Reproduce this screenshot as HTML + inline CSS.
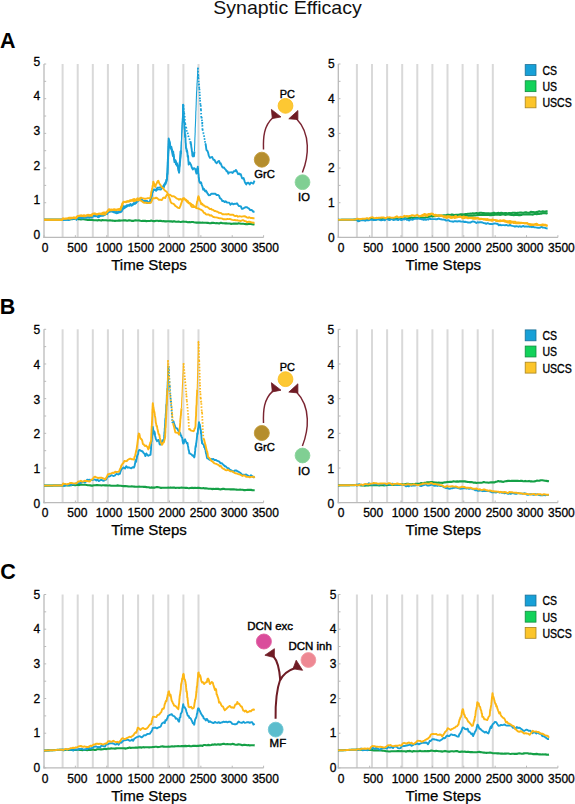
<!DOCTYPE html>
<html><head><meta charset="utf-8"><title>Synaptic Efficacy</title>
<style>html,body{margin:0;padding:0;background:#fff;width:575px;height:804px;overflow:hidden}svg{display:block}</style>
</head><body>
<svg width="575" height="804" viewBox="0 0 575 804">
<style>text{font-family:"Liberation Sans",sans-serif;fill:#111}.tk{font-size:12px;fill:#000;stroke:#000;stroke-width:0.3px}.ts{font-size:14.6px;fill:#000;stroke:#000;stroke-width:0.25px}.lg{font-size:12.2px;fill:#000;stroke:#000;stroke-width:0.35px}.pl{font-size:21.5px;font-weight:bold;fill:#000}.dl{font-size:11.1px;fill:#000;stroke:#000;stroke-width:0.4px}</style>
<rect width="575" height="804" fill="#fff"/>
<text x="287.5" y="13.9" text-anchor="middle" style="font-size:19px" textLength="148.5" lengthAdjust="spacingAndGlyphs">Synaptic Efficacy</text>
<text x="0.1" y="48.2" class="pl">A</text>
<text x="-0.2" y="313.5" class="pl">B</text>
<text x="0.2" y="578.6" class="pl">C</text>
<rect x="61.60" y="64.00" width="2" height="173.40" fill="#d9d9d9"/>
<rect x="76.70" y="64.00" width="2" height="173.40" fill="#d9d9d9"/>
<rect x="91.80" y="64.00" width="2" height="173.40" fill="#d9d9d9"/>
<rect x="106.90" y="64.00" width="2" height="173.40" fill="#d9d9d9"/>
<rect x="122.00" y="64.00" width="2" height="173.40" fill="#d9d9d9"/>
<rect x="137.10" y="64.00" width="2" height="173.40" fill="#d9d9d9"/>
<rect x="152.20" y="64.00" width="2" height="173.40" fill="#d9d9d9"/>
<rect x="167.30" y="64.00" width="2" height="173.40" fill="#d9d9d9"/>
<rect x="182.40" y="64.00" width="2" height="173.40" fill="#d9d9d9"/>
<rect x="197.50" y="64.00" width="2" height="173.40" fill="#d9d9d9"/>
<line x1="44.00" y1="64.00" x2="44.00" y2="238.00" stroke="#bababa" stroke-width="1.3"/>
<line x1="43.40" y1="237.40" x2="263.60" y2="237.40" stroke="#bababa" stroke-width="1.3"/>
<line x1="44.00" y1="237.40" x2="46.20" y2="237.40" stroke="#bababa" stroke-width="1"/>
<line x1="44.00" y1="220.06" x2="46.20" y2="220.06" stroke="#bababa" stroke-width="1"/>
<line x1="44.00" y1="202.72" x2="46.20" y2="202.72" stroke="#bababa" stroke-width="1"/>
<line x1="44.00" y1="185.38" x2="46.20" y2="185.38" stroke="#bababa" stroke-width="1"/>
<line x1="44.00" y1="168.04" x2="46.20" y2="168.04" stroke="#bababa" stroke-width="1"/>
<line x1="44.00" y1="150.70" x2="46.20" y2="150.70" stroke="#bababa" stroke-width="1"/>
<line x1="44.00" y1="133.36" x2="46.20" y2="133.36" stroke="#bababa" stroke-width="1"/>
<line x1="44.00" y1="116.02" x2="46.20" y2="116.02" stroke="#bababa" stroke-width="1"/>
<line x1="44.00" y1="98.68" x2="46.20" y2="98.68" stroke="#bababa" stroke-width="1"/>
<line x1="44.00" y1="81.34" x2="46.20" y2="81.34" stroke="#bababa" stroke-width="1"/>
<line x1="44.00" y1="64.00" x2="46.20" y2="64.00" stroke="#bababa" stroke-width="1"/>
<line x1="44.00" y1="237.40" x2="44.00" y2="235.20" stroke="#bababa" stroke-width="1"/>
<line x1="75.37" y1="237.40" x2="75.37" y2="235.20" stroke="#bababa" stroke-width="1"/>
<line x1="106.74" y1="237.40" x2="106.74" y2="235.20" stroke="#bababa" stroke-width="1"/>
<line x1="138.11" y1="237.40" x2="138.11" y2="235.20" stroke="#bababa" stroke-width="1"/>
<line x1="169.49" y1="237.40" x2="169.49" y2="235.20" stroke="#bababa" stroke-width="1"/>
<line x1="200.86" y1="237.40" x2="200.86" y2="235.20" stroke="#bababa" stroke-width="1"/>
<line x1="232.23" y1="237.40" x2="232.23" y2="235.20" stroke="#bababa" stroke-width="1"/>
<line x1="263.60" y1="237.40" x2="263.60" y2="235.20" stroke="#bababa" stroke-width="1"/>
<text x="40.10" y="238.90" class="tk" text-anchor="end">0</text>
<text x="40.10" y="204.22" class="tk" text-anchor="end">1</text>
<text x="40.10" y="169.54" class="tk" text-anchor="end">2</text>
<text x="40.10" y="134.86" class="tk" text-anchor="end">3</text>
<text x="40.10" y="100.18" class="tk" text-anchor="end">4</text>
<text x="40.10" y="65.50" class="tk" text-anchor="end">5</text>
<text x="45.10" y="252.00" class="tk" text-anchor="middle">0</text>
<text x="77.30" y="252.00" class="tk" text-anchor="middle">500</text>
<text x="109.10" y="252.00" class="tk" text-anchor="middle">1000</text>
<text x="140.80" y="252.00" class="tk" text-anchor="middle">1500</text>
<text x="171.90" y="252.00" class="tk" text-anchor="middle">2000</text>
<text x="203.10" y="252.00" class="tk" text-anchor="middle">2500</text>
<text x="234.10" y="252.00" class="tk" text-anchor="middle">3000</text>
<text x="265.50" y="252.00" class="tk" text-anchor="middle">3500</text>
<text x="149.00" y="270.00" class="ts" text-anchor="middle" textLength="75.6" lengthAdjust="spacingAndGlyphs">Time Steps</text>
<rect x="355.90" y="64.00" width="2" height="173.40" fill="#d9d9d9"/>
<rect x="371.00" y="64.00" width="2" height="173.40" fill="#d9d9d9"/>
<rect x="386.10" y="64.00" width="2" height="173.40" fill="#d9d9d9"/>
<rect x="401.20" y="64.00" width="2" height="173.40" fill="#d9d9d9"/>
<rect x="416.30" y="64.00" width="2" height="173.40" fill="#d9d9d9"/>
<rect x="431.40" y="64.00" width="2" height="173.40" fill="#d9d9d9"/>
<rect x="446.50" y="64.00" width="2" height="173.40" fill="#d9d9d9"/>
<rect x="461.60" y="64.00" width="2" height="173.40" fill="#d9d9d9"/>
<rect x="476.70" y="64.00" width="2" height="173.40" fill="#d9d9d9"/>
<rect x="491.80" y="64.00" width="2" height="173.40" fill="#d9d9d9"/>
<line x1="338.30" y1="64.00" x2="338.30" y2="238.00" stroke="#bababa" stroke-width="1.3"/>
<line x1="337.70" y1="237.40" x2="557.90" y2="237.40" stroke="#bababa" stroke-width="1.3"/>
<line x1="338.30" y1="237.40" x2="340.50" y2="237.40" stroke="#bababa" stroke-width="1"/>
<line x1="338.30" y1="220.06" x2="340.50" y2="220.06" stroke="#bababa" stroke-width="1"/>
<line x1="338.30" y1="202.72" x2="340.50" y2="202.72" stroke="#bababa" stroke-width="1"/>
<line x1="338.30" y1="185.38" x2="340.50" y2="185.38" stroke="#bababa" stroke-width="1"/>
<line x1="338.30" y1="168.04" x2="340.50" y2="168.04" stroke="#bababa" stroke-width="1"/>
<line x1="338.30" y1="150.70" x2="340.50" y2="150.70" stroke="#bababa" stroke-width="1"/>
<line x1="338.30" y1="133.36" x2="340.50" y2="133.36" stroke="#bababa" stroke-width="1"/>
<line x1="338.30" y1="116.02" x2="340.50" y2="116.02" stroke="#bababa" stroke-width="1"/>
<line x1="338.30" y1="98.68" x2="340.50" y2="98.68" stroke="#bababa" stroke-width="1"/>
<line x1="338.30" y1="81.34" x2="340.50" y2="81.34" stroke="#bababa" stroke-width="1"/>
<line x1="338.30" y1="64.00" x2="340.50" y2="64.00" stroke="#bababa" stroke-width="1"/>
<line x1="338.30" y1="237.40" x2="338.30" y2="235.20" stroke="#bababa" stroke-width="1"/>
<line x1="369.67" y1="237.40" x2="369.67" y2="235.20" stroke="#bababa" stroke-width="1"/>
<line x1="401.04" y1="237.40" x2="401.04" y2="235.20" stroke="#bababa" stroke-width="1"/>
<line x1="432.41" y1="237.40" x2="432.41" y2="235.20" stroke="#bababa" stroke-width="1"/>
<line x1="463.79" y1="237.40" x2="463.79" y2="235.20" stroke="#bababa" stroke-width="1"/>
<line x1="495.16" y1="237.40" x2="495.16" y2="235.20" stroke="#bababa" stroke-width="1"/>
<line x1="526.53" y1="237.40" x2="526.53" y2="235.20" stroke="#bababa" stroke-width="1"/>
<line x1="557.90" y1="237.40" x2="557.90" y2="235.20" stroke="#bababa" stroke-width="1"/>
<text x="334.60" y="241.50" class="tk" text-anchor="end">0</text>
<text x="334.60" y="206.82" class="tk" text-anchor="end">1</text>
<text x="334.60" y="172.14" class="tk" text-anchor="end">2</text>
<text x="334.60" y="137.46" class="tk" text-anchor="end">3</text>
<text x="334.60" y="102.78" class="tk" text-anchor="end">4</text>
<text x="334.60" y="68.10" class="tk" text-anchor="end">5</text>
<text x="341.00" y="252.00" class="tk" text-anchor="middle">0</text>
<text x="373.20" y="252.00" class="tk" text-anchor="middle">500</text>
<text x="405.00" y="252.00" class="tk" text-anchor="middle">1000</text>
<text x="436.70" y="252.00" class="tk" text-anchor="middle">1500</text>
<text x="467.80" y="252.00" class="tk" text-anchor="middle">2000</text>
<text x="499.00" y="252.00" class="tk" text-anchor="middle">2500</text>
<text x="530.00" y="252.00" class="tk" text-anchor="middle">3000</text>
<text x="561.40" y="252.00" class="tk" text-anchor="middle">3500</text>
<text x="443.30" y="270.00" class="ts" text-anchor="middle" textLength="75.6" lengthAdjust="spacingAndGlyphs">Time Steps</text>
<rect x="525.2" y="64.60" width="10.8" height="10.9" fill="#17a0d7" stroke="#1b6f95" stroke-width="0.8"/>
<text x="542.4" y="74.90" class="lg" textLength="14.6" lengthAdjust="spacingAndGlyphs">CS</text>
<rect x="525.2" y="80.75" width="10.8" height="10.9" fill="#12d25a" stroke="#138a3e" stroke-width="0.8"/>
<text x="542.4" y="91.05" class="lg" textLength="14.6" lengthAdjust="spacingAndGlyphs">US</text>
<rect x="525.2" y="96.90" width="10.8" height="10.9" fill="#fcc52a" stroke="#a8841f" stroke-width="0.8"/>
<text x="542.4" y="107.20" class="lg" textLength="29.4" lengthAdjust="spacingAndGlyphs">USCS</text>
<rect x="61.60" y="329.30" width="2" height="173.40" fill="#d9d9d9"/>
<rect x="76.70" y="329.30" width="2" height="173.40" fill="#d9d9d9"/>
<rect x="91.80" y="329.30" width="2" height="173.40" fill="#d9d9d9"/>
<rect x="106.90" y="329.30" width="2" height="173.40" fill="#d9d9d9"/>
<rect x="122.00" y="329.30" width="2" height="173.40" fill="#d9d9d9"/>
<rect x="137.10" y="329.30" width="2" height="173.40" fill="#d9d9d9"/>
<rect x="152.20" y="329.30" width="2" height="173.40" fill="#d9d9d9"/>
<rect x="167.30" y="329.30" width="2" height="173.40" fill="#d9d9d9"/>
<rect x="182.40" y="329.30" width="2" height="173.40" fill="#d9d9d9"/>
<rect x="197.50" y="329.30" width="2" height="173.40" fill="#d9d9d9"/>
<line x1="44.00" y1="329.30" x2="44.00" y2="503.30" stroke="#bababa" stroke-width="1.3"/>
<line x1="43.40" y1="502.70" x2="263.60" y2="502.70" stroke="#bababa" stroke-width="1.3"/>
<line x1="44.00" y1="502.70" x2="46.20" y2="502.70" stroke="#bababa" stroke-width="1"/>
<line x1="44.00" y1="485.36" x2="46.20" y2="485.36" stroke="#bababa" stroke-width="1"/>
<line x1="44.00" y1="468.02" x2="46.20" y2="468.02" stroke="#bababa" stroke-width="1"/>
<line x1="44.00" y1="450.68" x2="46.20" y2="450.68" stroke="#bababa" stroke-width="1"/>
<line x1="44.00" y1="433.34" x2="46.20" y2="433.34" stroke="#bababa" stroke-width="1"/>
<line x1="44.00" y1="416.00" x2="46.20" y2="416.00" stroke="#bababa" stroke-width="1"/>
<line x1="44.00" y1="398.66" x2="46.20" y2="398.66" stroke="#bababa" stroke-width="1"/>
<line x1="44.00" y1="381.32" x2="46.20" y2="381.32" stroke="#bababa" stroke-width="1"/>
<line x1="44.00" y1="363.98" x2="46.20" y2="363.98" stroke="#bababa" stroke-width="1"/>
<line x1="44.00" y1="346.64" x2="46.20" y2="346.64" stroke="#bababa" stroke-width="1"/>
<line x1="44.00" y1="329.30" x2="46.20" y2="329.30" stroke="#bababa" stroke-width="1"/>
<line x1="44.00" y1="502.70" x2="44.00" y2="500.50" stroke="#bababa" stroke-width="1"/>
<line x1="75.37" y1="502.70" x2="75.37" y2="500.50" stroke="#bababa" stroke-width="1"/>
<line x1="106.74" y1="502.70" x2="106.74" y2="500.50" stroke="#bababa" stroke-width="1"/>
<line x1="138.11" y1="502.70" x2="138.11" y2="500.50" stroke="#bababa" stroke-width="1"/>
<line x1="169.49" y1="502.70" x2="169.49" y2="500.50" stroke="#bababa" stroke-width="1"/>
<line x1="200.86" y1="502.70" x2="200.86" y2="500.50" stroke="#bababa" stroke-width="1"/>
<line x1="232.23" y1="502.70" x2="232.23" y2="500.50" stroke="#bababa" stroke-width="1"/>
<line x1="263.60" y1="502.70" x2="263.60" y2="500.50" stroke="#bababa" stroke-width="1"/>
<text x="40.10" y="507.80" class="tk" text-anchor="end">0</text>
<text x="40.10" y="473.12" class="tk" text-anchor="end">1</text>
<text x="40.10" y="438.44" class="tk" text-anchor="end">2</text>
<text x="40.10" y="403.76" class="tk" text-anchor="end">3</text>
<text x="40.10" y="369.08" class="tk" text-anchor="end">4</text>
<text x="40.10" y="334.40" class="tk" text-anchor="end">5</text>
<text x="45.10" y="517.30" class="tk" text-anchor="middle">0</text>
<text x="77.30" y="517.30" class="tk" text-anchor="middle">500</text>
<text x="109.10" y="517.30" class="tk" text-anchor="middle">1000</text>
<text x="140.80" y="517.30" class="tk" text-anchor="middle">1500</text>
<text x="171.90" y="517.30" class="tk" text-anchor="middle">2000</text>
<text x="203.10" y="517.30" class="tk" text-anchor="middle">2500</text>
<text x="234.10" y="517.30" class="tk" text-anchor="middle">3000</text>
<text x="265.50" y="517.30" class="tk" text-anchor="middle">3500</text>
<text x="149.00" y="535.30" class="ts" text-anchor="middle" textLength="75.6" lengthAdjust="spacingAndGlyphs">Time Steps</text>
<rect x="355.90" y="329.30" width="2" height="173.40" fill="#d9d9d9"/>
<rect x="371.00" y="329.30" width="2" height="173.40" fill="#d9d9d9"/>
<rect x="386.10" y="329.30" width="2" height="173.40" fill="#d9d9d9"/>
<rect x="401.20" y="329.30" width="2" height="173.40" fill="#d9d9d9"/>
<rect x="416.30" y="329.30" width="2" height="173.40" fill="#d9d9d9"/>
<rect x="431.40" y="329.30" width="2" height="173.40" fill="#d9d9d9"/>
<rect x="446.50" y="329.30" width="2" height="173.40" fill="#d9d9d9"/>
<rect x="461.60" y="329.30" width="2" height="173.40" fill="#d9d9d9"/>
<rect x="476.70" y="329.30" width="2" height="173.40" fill="#d9d9d9"/>
<rect x="491.80" y="329.30" width="2" height="173.40" fill="#d9d9d9"/>
<line x1="338.30" y1="329.30" x2="338.30" y2="503.30" stroke="#bababa" stroke-width="1.3"/>
<line x1="337.70" y1="502.70" x2="557.90" y2="502.70" stroke="#bababa" stroke-width="1.3"/>
<line x1="338.30" y1="502.70" x2="340.50" y2="502.70" stroke="#bababa" stroke-width="1"/>
<line x1="338.30" y1="485.36" x2="340.50" y2="485.36" stroke="#bababa" stroke-width="1"/>
<line x1="338.30" y1="468.02" x2="340.50" y2="468.02" stroke="#bababa" stroke-width="1"/>
<line x1="338.30" y1="450.68" x2="340.50" y2="450.68" stroke="#bababa" stroke-width="1"/>
<line x1="338.30" y1="433.34" x2="340.50" y2="433.34" stroke="#bababa" stroke-width="1"/>
<line x1="338.30" y1="416.00" x2="340.50" y2="416.00" stroke="#bababa" stroke-width="1"/>
<line x1="338.30" y1="398.66" x2="340.50" y2="398.66" stroke="#bababa" stroke-width="1"/>
<line x1="338.30" y1="381.32" x2="340.50" y2="381.32" stroke="#bababa" stroke-width="1"/>
<line x1="338.30" y1="363.98" x2="340.50" y2="363.98" stroke="#bababa" stroke-width="1"/>
<line x1="338.30" y1="346.64" x2="340.50" y2="346.64" stroke="#bababa" stroke-width="1"/>
<line x1="338.30" y1="329.30" x2="340.50" y2="329.30" stroke="#bababa" stroke-width="1"/>
<line x1="338.30" y1="502.70" x2="338.30" y2="500.50" stroke="#bababa" stroke-width="1"/>
<line x1="369.67" y1="502.70" x2="369.67" y2="500.50" stroke="#bababa" stroke-width="1"/>
<line x1="401.04" y1="502.70" x2="401.04" y2="500.50" stroke="#bababa" stroke-width="1"/>
<line x1="432.41" y1="502.70" x2="432.41" y2="500.50" stroke="#bababa" stroke-width="1"/>
<line x1="463.79" y1="502.70" x2="463.79" y2="500.50" stroke="#bababa" stroke-width="1"/>
<line x1="495.16" y1="502.70" x2="495.16" y2="500.50" stroke="#bababa" stroke-width="1"/>
<line x1="526.53" y1="502.70" x2="526.53" y2="500.50" stroke="#bababa" stroke-width="1"/>
<line x1="557.90" y1="502.70" x2="557.90" y2="500.50" stroke="#bababa" stroke-width="1"/>
<text x="334.20" y="507.80" class="tk" text-anchor="end">0</text>
<text x="334.20" y="473.12" class="tk" text-anchor="end">1</text>
<text x="334.20" y="438.44" class="tk" text-anchor="end">2</text>
<text x="334.20" y="403.76" class="tk" text-anchor="end">3</text>
<text x="334.20" y="369.08" class="tk" text-anchor="end">4</text>
<text x="334.20" y="334.40" class="tk" text-anchor="end">5</text>
<text x="341.00" y="517.30" class="tk" text-anchor="middle">0</text>
<text x="373.20" y="517.30" class="tk" text-anchor="middle">500</text>
<text x="405.00" y="517.30" class="tk" text-anchor="middle">1000</text>
<text x="436.70" y="517.30" class="tk" text-anchor="middle">1500</text>
<text x="467.80" y="517.30" class="tk" text-anchor="middle">2000</text>
<text x="499.00" y="517.30" class="tk" text-anchor="middle">2500</text>
<text x="530.00" y="517.30" class="tk" text-anchor="middle">3000</text>
<text x="561.40" y="517.30" class="tk" text-anchor="middle">3500</text>
<text x="443.30" y="535.30" class="ts" text-anchor="middle" textLength="75.6" lengthAdjust="spacingAndGlyphs">Time Steps</text>
<rect x="525.2" y="329.90" width="10.8" height="10.9" fill="#17a0d7" stroke="#1b6f95" stroke-width="0.8"/>
<text x="542.4" y="340.20" class="lg" textLength="14.6" lengthAdjust="spacingAndGlyphs">CS</text>
<rect x="525.2" y="346.05" width="10.8" height="10.9" fill="#12d25a" stroke="#138a3e" stroke-width="0.8"/>
<text x="542.4" y="356.35" class="lg" textLength="14.6" lengthAdjust="spacingAndGlyphs">US</text>
<rect x="525.2" y="362.20" width="10.8" height="10.9" fill="#fcc52a" stroke="#a8841f" stroke-width="0.8"/>
<text x="542.4" y="372.50" class="lg" textLength="29.4" lengthAdjust="spacingAndGlyphs">USCS</text>
<rect x="61.60" y="594.50" width="2" height="173.40" fill="#d9d9d9"/>
<rect x="76.70" y="594.50" width="2" height="173.40" fill="#d9d9d9"/>
<rect x="91.80" y="594.50" width="2" height="173.40" fill="#d9d9d9"/>
<rect x="106.90" y="594.50" width="2" height="173.40" fill="#d9d9d9"/>
<rect x="122.00" y="594.50" width="2" height="173.40" fill="#d9d9d9"/>
<rect x="137.10" y="594.50" width="2" height="173.40" fill="#d9d9d9"/>
<rect x="152.20" y="594.50" width="2" height="173.40" fill="#d9d9d9"/>
<rect x="167.30" y="594.50" width="2" height="173.40" fill="#d9d9d9"/>
<rect x="182.40" y="594.50" width="2" height="173.40" fill="#d9d9d9"/>
<rect x="197.50" y="594.50" width="2" height="173.40" fill="#d9d9d9"/>
<line x1="44.00" y1="594.50" x2="44.00" y2="768.50" stroke="#bababa" stroke-width="1.3"/>
<line x1="43.40" y1="767.90" x2="263.60" y2="767.90" stroke="#bababa" stroke-width="1.3"/>
<line x1="44.00" y1="767.90" x2="46.20" y2="767.90" stroke="#bababa" stroke-width="1"/>
<line x1="44.00" y1="750.56" x2="46.20" y2="750.56" stroke="#bababa" stroke-width="1"/>
<line x1="44.00" y1="733.22" x2="46.20" y2="733.22" stroke="#bababa" stroke-width="1"/>
<line x1="44.00" y1="715.88" x2="46.20" y2="715.88" stroke="#bababa" stroke-width="1"/>
<line x1="44.00" y1="698.54" x2="46.20" y2="698.54" stroke="#bababa" stroke-width="1"/>
<line x1="44.00" y1="681.20" x2="46.20" y2="681.20" stroke="#bababa" stroke-width="1"/>
<line x1="44.00" y1="663.86" x2="46.20" y2="663.86" stroke="#bababa" stroke-width="1"/>
<line x1="44.00" y1="646.52" x2="46.20" y2="646.52" stroke="#bababa" stroke-width="1"/>
<line x1="44.00" y1="629.18" x2="46.20" y2="629.18" stroke="#bababa" stroke-width="1"/>
<line x1="44.00" y1="611.84" x2="46.20" y2="611.84" stroke="#bababa" stroke-width="1"/>
<line x1="44.00" y1="594.50" x2="46.20" y2="594.50" stroke="#bababa" stroke-width="1"/>
<line x1="44.00" y1="767.90" x2="44.00" y2="765.70" stroke="#bababa" stroke-width="1"/>
<line x1="75.37" y1="767.90" x2="75.37" y2="765.70" stroke="#bababa" stroke-width="1"/>
<line x1="106.74" y1="767.90" x2="106.74" y2="765.70" stroke="#bababa" stroke-width="1"/>
<line x1="138.11" y1="767.90" x2="138.11" y2="765.70" stroke="#bababa" stroke-width="1"/>
<line x1="169.49" y1="767.90" x2="169.49" y2="765.70" stroke="#bababa" stroke-width="1"/>
<line x1="200.86" y1="767.90" x2="200.86" y2="765.70" stroke="#bababa" stroke-width="1"/>
<line x1="232.23" y1="767.90" x2="232.23" y2="765.70" stroke="#bababa" stroke-width="1"/>
<line x1="263.60" y1="767.90" x2="263.60" y2="765.70" stroke="#bababa" stroke-width="1"/>
<text x="40.10" y="772.00" class="tk" text-anchor="end">0</text>
<text x="40.10" y="737.32" class="tk" text-anchor="end">1</text>
<text x="40.10" y="702.64" class="tk" text-anchor="end">2</text>
<text x="40.10" y="667.96" class="tk" text-anchor="end">3</text>
<text x="40.10" y="633.28" class="tk" text-anchor="end">4</text>
<text x="40.10" y="598.60" class="tk" text-anchor="end">5</text>
<text x="45.10" y="782.50" class="tk" text-anchor="middle">0</text>
<text x="77.30" y="782.50" class="tk" text-anchor="middle">500</text>
<text x="109.10" y="782.50" class="tk" text-anchor="middle">1000</text>
<text x="140.80" y="782.50" class="tk" text-anchor="middle">1500</text>
<text x="171.90" y="782.50" class="tk" text-anchor="middle">2000</text>
<text x="203.10" y="782.50" class="tk" text-anchor="middle">2500</text>
<text x="234.10" y="782.50" class="tk" text-anchor="middle">3000</text>
<text x="265.50" y="782.50" class="tk" text-anchor="middle">3500</text>
<text x="149.00" y="800.50" class="ts" text-anchor="middle" textLength="75.6" lengthAdjust="spacingAndGlyphs">Time Steps</text>
<rect x="355.90" y="594.50" width="2" height="173.40" fill="#d9d9d9"/>
<rect x="371.00" y="594.50" width="2" height="173.40" fill="#d9d9d9"/>
<rect x="386.10" y="594.50" width="2" height="173.40" fill="#d9d9d9"/>
<rect x="401.20" y="594.50" width="2" height="173.40" fill="#d9d9d9"/>
<rect x="416.30" y="594.50" width="2" height="173.40" fill="#d9d9d9"/>
<rect x="431.40" y="594.50" width="2" height="173.40" fill="#d9d9d9"/>
<rect x="446.50" y="594.50" width="2" height="173.40" fill="#d9d9d9"/>
<rect x="461.60" y="594.50" width="2" height="173.40" fill="#d9d9d9"/>
<rect x="476.70" y="594.50" width="2" height="173.40" fill="#d9d9d9"/>
<rect x="491.80" y="594.50" width="2" height="173.40" fill="#d9d9d9"/>
<line x1="338.30" y1="594.50" x2="338.30" y2="768.50" stroke="#bababa" stroke-width="1.3"/>
<line x1="337.70" y1="767.90" x2="557.90" y2="767.90" stroke="#bababa" stroke-width="1.3"/>
<line x1="338.30" y1="767.90" x2="340.50" y2="767.90" stroke="#bababa" stroke-width="1"/>
<line x1="338.30" y1="750.56" x2="340.50" y2="750.56" stroke="#bababa" stroke-width="1"/>
<line x1="338.30" y1="733.22" x2="340.50" y2="733.22" stroke="#bababa" stroke-width="1"/>
<line x1="338.30" y1="715.88" x2="340.50" y2="715.88" stroke="#bababa" stroke-width="1"/>
<line x1="338.30" y1="698.54" x2="340.50" y2="698.54" stroke="#bababa" stroke-width="1"/>
<line x1="338.30" y1="681.20" x2="340.50" y2="681.20" stroke="#bababa" stroke-width="1"/>
<line x1="338.30" y1="663.86" x2="340.50" y2="663.86" stroke="#bababa" stroke-width="1"/>
<line x1="338.30" y1="646.52" x2="340.50" y2="646.52" stroke="#bababa" stroke-width="1"/>
<line x1="338.30" y1="629.18" x2="340.50" y2="629.18" stroke="#bababa" stroke-width="1"/>
<line x1="338.30" y1="611.84" x2="340.50" y2="611.84" stroke="#bababa" stroke-width="1"/>
<line x1="338.30" y1="594.50" x2="340.50" y2="594.50" stroke="#bababa" stroke-width="1"/>
<line x1="338.30" y1="767.90" x2="338.30" y2="765.70" stroke="#bababa" stroke-width="1"/>
<line x1="369.67" y1="767.90" x2="369.67" y2="765.70" stroke="#bababa" stroke-width="1"/>
<line x1="401.04" y1="767.90" x2="401.04" y2="765.70" stroke="#bababa" stroke-width="1"/>
<line x1="432.41" y1="767.90" x2="432.41" y2="765.70" stroke="#bababa" stroke-width="1"/>
<line x1="463.79" y1="767.90" x2="463.79" y2="765.70" stroke="#bababa" stroke-width="1"/>
<line x1="495.16" y1="767.90" x2="495.16" y2="765.70" stroke="#bababa" stroke-width="1"/>
<line x1="526.53" y1="767.90" x2="526.53" y2="765.70" stroke="#bababa" stroke-width="1"/>
<line x1="557.90" y1="767.90" x2="557.90" y2="765.70" stroke="#bababa" stroke-width="1"/>
<text x="336.40" y="772.00" class="tk" text-anchor="end">0</text>
<text x="336.40" y="737.32" class="tk" text-anchor="end">1</text>
<text x="336.40" y="702.64" class="tk" text-anchor="end">2</text>
<text x="336.40" y="667.96" class="tk" text-anchor="end">3</text>
<text x="336.40" y="633.28" class="tk" text-anchor="end">4</text>
<text x="336.40" y="598.60" class="tk" text-anchor="end">5</text>
<text x="341.00" y="782.50" class="tk" text-anchor="middle">0</text>
<text x="373.20" y="782.50" class="tk" text-anchor="middle">500</text>
<text x="405.00" y="782.50" class="tk" text-anchor="middle">1000</text>
<text x="436.70" y="782.50" class="tk" text-anchor="middle">1500</text>
<text x="467.80" y="782.50" class="tk" text-anchor="middle">2000</text>
<text x="499.00" y="782.50" class="tk" text-anchor="middle">2500</text>
<text x="530.00" y="782.50" class="tk" text-anchor="middle">3000</text>
<text x="561.40" y="782.50" class="tk" text-anchor="middle">3500</text>
<text x="443.30" y="800.50" class="ts" text-anchor="middle" textLength="75.6" lengthAdjust="spacingAndGlyphs">Time Steps</text>
<rect x="525.2" y="595.10" width="10.8" height="10.9" fill="#17a0d7" stroke="#1b6f95" stroke-width="0.8"/>
<text x="542.4" y="605.40" class="lg" textLength="14.6" lengthAdjust="spacingAndGlyphs">CS</text>
<rect x="525.2" y="611.25" width="10.8" height="10.9" fill="#12d25a" stroke="#138a3e" stroke-width="0.8"/>
<text x="542.4" y="621.55" class="lg" textLength="14.6" lengthAdjust="spacingAndGlyphs">US</text>
<rect x="525.2" y="627.40" width="10.8" height="10.9" fill="#fcc52a" stroke="#a8841f" stroke-width="0.8"/>
<text x="542.4" y="637.70" class="lg" textLength="29.4" lengthAdjust="spacingAndGlyphs">USCS</text>
<path d="M44.0,219.8 L45.2,219.8 L46.4,219.8 L47.6,219.8 L48.9,219.8 L50.1,219.8 L51.3,219.8 L52.5,219.8 L53.7,219.7 L54.9,219.7 L56.1,219.7 L57.3,219.7 L58.6,219.7 L59.8,219.7 L61.0,219.7 L62.2,219.7 L63.5,219.4 L64.8,219.1 L66.1,219.1 L67.4,219.1 L68.7,219.2 L70.0,219.2 L71.4,219.2 L72.8,218.9 L74.2,218.9 L75.6,218.9 L77.0,218.6 L78.3,219.1 L79.7,219.2 L81.0,219.5 L82.3,219.3 L83.7,219.3 L85.0,219.5 L86.2,219.6 L87.5,219.9 L88.8,219.9 L90.0,219.9 L91.2,219.9 L92.5,219.9 L93.8,220.3 L95.0,220.2 L96.2,220.3 L97.5,220.4 L98.8,220.1 L100.0,220.3 L101.2,220.6 L102.5,220.1 L103.8,220.2 L105.0,220.3 L106.2,220.2 L107.5,220.5 L108.8,220.5 L110.0,220.2 L111.2,220.5 L112.5,220.6 L113.8,220.7 L115.0,220.9 L116.2,220.8 L117.5,220.7 L118.8,220.4 L120.0,220.6 L121.2,220.5 L122.4,220.5 L123.6,220.4 L124.8,220.3 L126.0,220.4 L127.2,220.8 L128.4,220.4 L129.6,220.3 L130.8,220.5 L132.0,220.9 L133.2,220.9 L134.4,220.5 L135.6,220.2 L136.8,220.5 L138.0,220.5 L139.2,220.4 L140.4,220.8 L141.6,221.0 L142.8,220.9 L144.0,220.9 L145.2,220.9 L146.4,221.1 L147.6,221.0 L148.8,221.0 L150.0,221.0 L151.2,220.6 L152.5,221.0 L153.8,221.1 L155.0,221.1 L156.2,220.7 L157.5,220.8 L158.8,221.1 L160.0,220.8 L161.2,220.9 L162.5,221.2 L163.8,221.0 L165.0,221.4 L166.2,221.4 L167.5,221.3 L168.8,221.3 L170.0,221.4 L171.2,221.4 L172.4,221.6 L173.6,221.4 L174.8,221.4 L176.0,221.7 L177.2,221.7 L178.4,221.5 L179.6,221.8 L180.8,222.0 L182.0,221.8 L183.2,221.6 L184.4,221.8 L185.6,221.8 L186.8,221.9 L188.0,222.2 L189.2,222.0 L190.4,222.3 L191.6,222.0 L192.8,222.0 L194.0,222.3 L195.2,222.5 L196.4,222.6 L197.6,222.6 L198.8,222.5 L200.0,222.6 L201.2,222.7 L202.4,222.6 L203.6,222.7 L204.8,222.8 L206.0,222.8 L207.2,222.9 L208.4,222.9 L209.6,223.2 L210.8,223.1 L212.0,222.9 L213.2,222.9 L214.4,223.0 L215.6,223.2 L216.8,223.1 L218.0,223.2 L219.2,223.5 L220.4,222.9 L221.6,222.9 L222.8,223.2 L224.0,223.3 L225.2,223.4 L226.4,223.3 L227.6,223.5 L228.8,223.5 L230.0,223.5 L231.2,223.9 L232.4,223.8 L233.7,223.6 L234.9,223.6 L236.1,223.6 L237.3,223.7 L238.6,223.3 L239.8,223.5 L241.0,223.8 L242.2,223.7 L243.5,223.8 L244.7,224.0 L245.9,224.1 L247.2,224.3 L248.4,223.9 L249.6,223.9 L250.8,224.0 L252.1,224.2 L253.3,224.4 L254.5,224.2" fill="none" stroke="#14a046" stroke-width="2.10" stroke-linejoin="round" stroke-linecap="butt"/>
<path d="M338.0,219.9 L339.3,219.9 L340.5,219.9 L341.8,219.8 L343.0,219.8 L344.3,219.8 L345.5,219.8 L346.8,219.8 L348.0,219.7 L349.3,219.7 L350.5,219.7 L351.8,219.7 L353.0,219.7 L354.3,219.6 L355.5,219.6 L356.8,219.6 L358.0,219.7 L359.3,219.6 L360.5,219.5 L361.7,219.6 L362.9,219.6 L364.2,219.6 L365.4,219.2 L366.6,219.0 L367.9,219.3 L369.1,219.1 L370.3,219.0 L371.6,218.9 L372.8,219.3 L374.0,219.3 L375.2,219.5 L376.5,219.1 L377.7,219.1 L378.9,218.9 L380.2,219.1 L381.4,219.3 L382.6,219.0 L383.9,219.2 L385.1,219.2 L386.3,219.0 L387.5,218.5 L388.8,218.9 L390.0,218.8 L391.2,218.7 L392.4,218.8 L393.6,218.8 L394.8,219.0 L396.0,218.6 L397.2,218.7 L398.4,218.9 L399.6,218.9 L400.8,218.6 L402.0,218.3 L403.2,218.5 L404.4,218.4 L405.6,218.3 L406.8,218.5 L408.0,218.3 L409.2,217.8 L410.4,217.9 L411.6,217.6 L412.8,218.0 L414.0,218.0 L415.2,217.9 L416.4,217.9 L417.6,218.0 L418.8,217.9 L420.0,218.1 L421.2,217.8 L422.5,217.8 L423.8,217.8 L425.0,217.7 L426.2,217.2 L427.5,217.2 L428.8,216.6 L430.0,216.4 L431.2,216.1 L432.5,216.4 L433.8,216.1 L435.0,216.1 L436.2,216.0 L437.5,215.9 L438.8,215.6 L440.0,215.6 L441.2,215.8 L442.5,215.5 L443.8,215.4 L445.0,215.4 L446.2,215.2 L447.4,214.8 L448.6,214.8 L449.9,215.1 L451.1,214.6 L452.3,214.6 L453.5,214.9 L454.7,215.0 L455.9,214.9 L457.1,214.9 L458.4,214.8 L459.6,214.5 L460.8,214.2 L462.0,214.3 L463.2,214.6 L464.4,214.3 L465.6,214.1 L466.8,214.0 L468.0,213.7 L469.2,213.8 L470.4,213.6 L471.6,213.8 L472.8,213.2 L474.0,213.5 L475.2,213.4 L476.4,213.0 L477.6,213.3 L478.8,213.2 L480.0,212.7 L481.2,212.8 L482.5,213.1 L483.8,213.0 L485.0,213.2 L486.2,213.3 L487.5,213.4 L488.8,213.3 L490.0,213.5 L491.2,213.4 L492.5,213.3 L493.8,212.7 L495.0,213.1 L496.2,213.3 L497.5,213.1 L498.8,212.9 L500.0,213.4 L501.2,212.8 L502.5,213.0 L503.8,213.5 L505.0,213.0 L506.2,213.1 L507.5,213.4 L508.8,213.1 L510.0,213.1 L511.2,213.2 L512.5,212.8 L513.8,212.8 L515.0,212.9 L516.2,213.0 L517.5,212.9 L518.8,212.8 L520.0,212.6 L521.2,212.6 L522.4,212.8 L523.6,212.7 L524.8,212.4 L526.0,212.2 L527.2,212.8 L528.4,212.8 L529.6,212.6 L530.8,211.8 L532.0,212.1 L533.2,212.1 L534.4,212.4 L535.6,212.2 L536.8,211.9 L538.0,211.9 L539.2,211.3 L540.4,211.7 L541.6,211.6 L542.8,211.4 L544.0,211.6 L545.2,211.8 L546.4,211.2 L547.6,211.2" fill="none" stroke="#14a046" stroke-width="2.10" stroke-linejoin="round" stroke-linecap="butt"/>
<path d="M445.0,216.6 L446.2,216.6 L447.4,216.5 L448.6,216.3 L449.9,216.8 L451.1,216.8 L452.3,216.4 L453.5,216.1 L454.7,216.6 L455.9,216.6 L457.1,216.8 L458.4,216.7 L459.6,216.3 L460.8,216.3 L462.0,215.8 L463.2,215.8 L464.4,215.9 L465.6,216.0 L466.8,215.8 L468.0,215.7 L469.2,215.8 L470.4,215.7 L471.6,215.7 L472.8,215.6 L474.0,215.4 L475.2,215.5 L476.4,215.3 L477.6,215.0 L478.8,214.9 L480.0,214.9 L481.2,214.9 L482.5,215.0 L483.8,215.0 L485.0,215.0 L486.2,215.0 L487.5,214.7 L488.8,214.9 L490.0,215.1 L491.2,215.1 L492.5,215.0 L493.8,215.0 L495.0,214.8 L496.2,214.5 L497.5,214.7 L498.8,214.6 L500.0,214.9 L501.2,214.7 L502.5,214.3 L503.8,214.4 L505.0,214.9 L506.2,214.8 L507.5,214.5 L508.8,214.5 L510.0,214.8 L511.2,214.9 L512.5,214.9 L513.8,215.1 L515.0,215.0 L516.2,214.9 L517.5,214.9 L518.8,215.1 L520.0,215.1 L521.2,215.0 L522.4,214.5 L523.6,214.4 L524.8,214.5 L526.0,214.3 L527.2,214.5 L528.4,214.4 L529.6,214.4 L530.8,214.2 L532.0,214.6 L533.2,214.4 L534.4,214.0 L535.6,213.9 L536.8,214.3 L538.0,213.8 L539.2,213.9 L540.4,213.8 L541.6,213.6 L542.8,213.2 L544.0,213.3 L545.2,213.3 L546.4,213.4 L547.6,213.1" fill="none" stroke="#14a046" stroke-width="2.10" stroke-linejoin="round" stroke-linecap="butt"/>
<path d="M44.0,485.6 L45.2,485.6 L46.4,485.6 L47.6,485.6 L48.9,485.6 L50.1,485.6 L51.3,485.6 L52.5,485.6 L53.7,485.5 L54.9,485.5 L56.1,485.5 L57.3,485.5 L58.6,485.5 L59.8,485.5 L61.0,485.5 L62.2,485.5 L63.4,485.5 L64.6,485.4 L65.8,485.1 L67.1,485.5 L68.3,485.5 L69.5,485.5 L70.7,485.2 L71.9,485.1 L73.1,484.8 L74.4,485.1 L75.6,485.2 L76.8,484.8 L78.0,484.9 L79.2,485.1 L80.5,484.8 L81.7,484.6 L82.9,484.7 L84.2,484.8 L85.4,484.8 L86.6,485.0 L87.8,485.2 L89.1,485.3 L90.3,485.4 L91.5,485.6 L92.8,485.6 L94.0,485.2 L95.2,485.2 L96.5,485.1 L97.7,485.1 L98.9,485.2 L100.2,485.3 L101.4,485.5 L102.6,485.2 L103.8,485.2 L105.1,485.4 L106.3,485.4 L107.5,485.5 L108.8,485.5 L110.0,485.4 L111.2,485.7 L112.4,485.8 L113.6,485.8 L114.8,485.7 L116.1,485.8 L117.3,485.4 L118.5,485.6 L119.7,485.8 L120.9,485.7 L122.1,486.0 L123.3,486.1 L124.5,486.0 L125.8,486.1 L127.0,486.2 L128.2,486.4 L129.4,486.5 L130.6,486.5 L131.8,486.4 L133.0,486.5 L134.2,486.6 L135.5,486.8 L136.7,486.8 L137.9,486.7 L139.1,486.6 L140.3,486.7 L141.5,486.7 L142.7,486.7 L143.9,486.9 L145.2,486.9 L146.4,487.1 L147.6,487.3 L148.8,487.2 L150.0,487.7 L151.2,487.4 L152.4,487.6 L153.7,487.5 L154.9,487.6 L156.1,487.1 L157.3,487.1 L158.5,487.3 L159.7,487.5 L161.0,487.9 L162.2,487.7 L163.4,487.8 L164.6,487.8 L165.8,487.8 L167.0,487.7 L168.3,487.6 L169.5,487.7 L170.7,487.4 L171.9,487.7 L173.1,487.5 L174.3,487.6 L175.6,488.0 L176.8,487.7 L178.0,487.7 L179.2,487.9 L180.4,487.8 L181.7,487.6 L182.9,487.7 L184.1,487.8 L185.3,487.9 L186.5,487.7 L187.7,488.0 L189.0,488.2 L190.2,488.0 L191.4,487.9 L192.6,487.8 L193.8,488.1 L195.0,487.8 L196.3,488.0 L197.5,487.9 L198.7,487.8 L199.9,488.0 L201.1,488.3 L202.3,488.2 L203.5,488.1 L204.8,488.4 L206.0,488.4 L207.2,488.5 L208.4,488.7 L209.6,488.8 L210.8,488.7 L212.0,489.1 L213.2,488.9 L214.5,489.0 L215.7,488.9 L216.9,488.9 L218.1,488.7 L219.3,489.3 L220.5,489.4 L221.7,489.1 L223.0,488.9 L224.2,488.9 L225.4,489.3 L226.6,489.3 L227.8,489.3 L229.1,489.3 L230.3,489.4 L231.5,489.3 L232.7,489.4 L233.9,489.3 L235.2,489.5 L236.4,489.6 L237.6,489.7 L238.8,489.7 L240.1,489.6 L241.3,489.7 L242.5,489.7 L243.7,490.1 L244.9,490.1 L246.2,490.0 L247.4,489.9 L248.6,489.9 L249.8,489.8 L251.0,489.9 L252.3,490.1 L253.5,490.2 L254.7,490.2" fill="none" stroke="#14a046" stroke-width="2.10" stroke-linejoin="round" stroke-linecap="butt"/>
<path d="M338.0,485.4 L339.3,485.4 L340.5,485.3 L341.8,485.3 L343.0,485.3 L344.3,485.3 L345.5,485.2 L346.8,485.2 L348.0,485.2 L349.3,485.2 L350.5,485.1 L351.8,485.1 L353.0,485.1 L354.3,485.1 L355.5,485.0 L356.8,484.9 L358.4,485.0 L360.0,485.2 L361.2,485.5 L362.4,485.3 L363.6,485.5 L364.8,485.6 L366.0,485.5 L367.2,485.5 L368.4,485.4 L369.6,485.1 L370.8,485.2 L372.0,485.3 L373.2,485.2 L374.4,485.2 L375.6,485.3 L376.8,485.1 L378.0,485.3 L379.2,485.5 L380.4,485.2 L381.6,485.2 L382.8,485.1 L384.0,485.4 L385.2,485.3 L386.4,485.3 L387.6,485.0 L388.8,485.0 L390.0,485.0 L391.2,484.6 L392.4,485.0 L393.6,485.0 L394.8,484.6 L396.0,484.8 L397.2,484.7 L398.4,484.7 L399.6,484.7 L400.8,484.3 L402.0,484.3 L403.2,484.6 L404.4,484.3 L405.6,484.1 L406.8,483.9 L408.0,483.8 L409.2,484.0 L410.4,484.3 L411.6,484.2 L412.8,484.1 L414.0,484.3 L415.2,483.9 L416.4,483.7 L417.6,483.8 L418.8,483.8 L420.0,483.5 L421.2,483.1 L422.4,483.2 L423.7,483.1 L424.9,482.7 L426.1,482.6 L427.3,482.4 L428.6,482.4 L429.8,482.2 L431.0,482.0 L432.3,482.0 L433.6,482.4 L434.9,482.6 L436.1,482.5 L437.4,482.7 L438.7,482.5 L440.0,482.7 L441.2,482.8 L442.5,482.9 L443.7,482.5 L444.9,482.4 L446.1,482.3 L447.4,481.9 L448.6,482.0 L449.8,481.9 L451.1,481.9 L452.3,481.7 L453.5,481.3 L454.8,481.5 L456.0,481.6 L457.2,481.4 L458.4,481.6 L459.7,481.4 L460.9,481.2 L462.2,481.4 L463.5,481.2 L464.8,481.4 L466.0,481.6 L467.3,481.9 L468.6,482.0 L469.9,482.1 L471.2,482.1 L472.5,482.3 L473.7,482.7 L475.0,482.5 L476.3,483.0 L477.6,482.8 L478.8,482.7 L480.0,482.7 L481.2,482.8 L482.5,482.4 L483.7,482.0 L484.9,482.3 L486.1,482.5 L487.3,482.5 L488.6,482.8 L489.8,482.5 L491.0,482.3 L492.2,482.4 L493.4,482.2 L494.6,482.4 L495.8,481.8 L497.0,481.7 L498.3,481.0 L499.5,481.5 L500.7,481.4 L501.9,481.6 L503.1,481.9 L504.3,481.6 L505.5,481.3 L506.7,481.1 L507.9,480.9 L509.1,480.9 L510.4,481.0 L511.6,480.9 L512.8,480.9 L514.0,480.7 L515.2,480.9 L516.5,480.9 L517.7,480.8 L519.0,481.0 L520.2,480.9 L521.5,480.7 L522.7,481.1 L524.0,481.2 L525.2,480.9 L526.5,481.2 L527.7,481.2 L529.0,480.9 L530.2,481.4 L531.5,481.4 L532.7,481.5 L534.0,481.4 L535.4,481.2 L536.8,480.6 L538.1,480.8 L539.5,480.6 L540.9,480.3 L542.3,480.3 L543.6,480.5 L545.0,480.8 L546.3,480.9 L547.7,481.1 L549.0,481.3" fill="none" stroke="#14a046" stroke-width="2.10" stroke-linejoin="round" stroke-linecap="butt"/>
<path d="M44.0,750.6 L45.2,750.5 L46.4,750.5 L47.6,750.4 L48.9,750.4 L50.1,750.3 L51.3,750.2 L52.5,750.2 L53.7,750.1 L54.9,750.1 L56.1,750.0 L57.3,749.9 L58.6,749.9 L59.8,749.8 L61.0,749.8 L62.2,749.7 L63.5,750.3 L64.7,749.9 L66.0,749.7 L67.3,749.9 L68.6,749.7 L69.8,749.9 L71.1,750.0 L72.4,749.9 L73.6,750.1 L74.9,749.8 L76.2,750.0 L77.5,749.8 L78.7,749.8 L80.0,749.9 L81.2,749.9 L82.4,750.1 L83.6,750.0 L84.8,749.8 L86.0,749.9 L87.2,750.1 L88.4,749.9 L89.6,749.8 L90.8,749.9 L92.0,749.8 L93.2,749.4 L94.4,749.9 L95.6,750.0 L96.8,749.3 L98.0,749.3 L99.2,749.3 L100.4,749.4 L101.6,749.4 L102.8,749.2 L104.0,748.9 L105.2,748.9 L106.4,749.1 L107.6,748.8 L108.8,748.6 L110.0,748.7 L111.2,748.3 L112.4,748.5 L113.7,748.5 L114.9,748.6 L116.1,748.4 L117.3,748.3 L118.6,748.3 L119.8,748.3 L121.0,748.2 L122.2,748.2 L123.4,748.3 L124.7,748.4 L125.9,748.6 L127.1,748.1 L128.3,748.0 L129.6,747.5 L130.8,748.0 L132.0,747.8 L133.2,747.8 L134.4,747.8 L135.7,747.5 L136.9,747.6 L138.1,747.6 L139.3,747.2 L140.6,747.4 L141.8,747.6 L143.0,747.1 L144.2,747.4 L145.4,747.3 L146.7,747.3 L147.9,747.3 L149.1,747.4 L150.3,747.2 L151.6,747.2 L152.8,747.0 L154.0,747.0 L155.2,746.8 L156.4,746.8 L157.6,747.1 L158.8,747.0 L160.0,746.8 L161.2,746.5 L162.4,746.4 L163.6,746.6 L164.9,746.8 L166.1,746.7 L167.3,746.7 L168.5,746.6 L169.7,746.8 L170.9,746.5 L172.1,746.3 L173.3,746.5 L174.5,746.4 L175.7,746.3 L176.9,746.2 L178.1,746.1 L179.3,746.3 L180.5,746.3 L181.7,746.0 L182.9,746.1 L184.1,746.1 L185.4,745.9 L186.6,746.1 L187.8,746.0 L189.0,745.9 L190.2,746.1 L191.4,746.2 L192.6,745.9 L193.8,745.9 L195.0,745.7 L196.2,746.1 L197.5,745.7 L198.7,745.9 L200.0,745.5 L201.2,745.6 L202.5,745.9 L203.7,745.0 L205.0,745.0 L206.2,745.2 L207.4,745.1 L208.7,744.9 L209.9,745.3 L211.2,745.0 L212.4,744.5 L213.7,744.8 L214.9,744.3 L216.1,744.7 L217.4,744.4 L218.6,744.4 L219.9,744.6 L221.1,744.4 L222.4,744.0 L223.6,743.7 L224.9,744.1 L226.1,744.2 L227.3,744.0 L228.6,744.3 L229.8,744.3 L231.1,744.4 L232.3,743.9 L233.6,744.1 L234.8,744.5 L236.0,744.7 L237.3,744.8 L238.5,744.2 L239.8,744.5 L241.0,744.8 L242.3,745.3 L243.5,744.9 L244.8,744.9 L246.0,745.0 L247.2,745.2 L248.5,745.1 L249.7,745.4 L251.0,745.2 L252.2,745.3 L253.5,745.2 L254.7,745.4" fill="none" stroke="#14a046" stroke-width="2.10" stroke-linejoin="round" stroke-linecap="butt"/>
<path d="M338.0,750.4 L339.3,750.3 L340.5,750.3 L341.8,750.2 L343.0,750.2 L344.3,750.1 L345.5,750.1 L346.8,750.0 L348.0,750.0 L349.3,749.9 L350.5,749.9 L351.8,749.8 L353.0,749.8 L354.3,749.7 L355.5,749.7 L356.8,749.6 L358.0,749.6 L359.2,749.7 L360.4,749.7 L361.6,749.5 L362.8,749.6 L364.0,749.6 L365.2,749.7 L366.4,749.6 L367.6,749.9 L368.8,749.7 L370.0,750.0 L371.2,749.9 L372.4,750.1 L373.7,750.4 L374.9,750.4 L376.2,750.3 L377.4,750.4 L378.7,750.5 L379.9,750.3 L381.2,750.5 L382.5,750.7 L383.7,750.8 L385.0,750.9 L386.2,751.2 L387.5,751.3 L388.7,751.5 L390.0,751.5 L391.2,751.3 L392.5,751.3 L393.8,751.3 L395.0,751.2 L396.2,751.2 L397.5,751.0 L398.8,751.1 L400.0,751.2 L401.2,751.1 L402.5,751.2 L403.8,751.3 L405.0,751.3 L406.2,751.7 L407.5,751.0 L408.8,751.1 L410.0,750.9 L411.2,751.3 L412.5,751.7 L413.8,751.0 L415.0,751.2 L416.2,751.3 L417.5,751.2 L418.8,751.3 L420.0,750.8 L421.2,751.2 L422.5,751.2 L423.8,751.2 L425.0,751.0 L426.2,751.2 L427.5,751.0 L428.8,751.1 L430.0,751.0 L431.2,750.6 L432.5,750.8 L433.8,751.0 L435.0,751.1 L436.2,750.9 L437.5,751.0 L438.8,751.2 L440.0,751.2 L441.2,751.4 L442.5,751.6 L443.8,751.2 L445.0,750.9 L446.2,751.2 L447.5,751.5 L448.8,751.6 L450.0,751.6 L451.2,751.3 L452.5,751.2 L453.8,751.5 L455.0,751.3 L456.2,751.1 L457.5,751.1 L458.8,751.8 L460.0,752.0 L461.2,751.6 L462.4,751.5 L463.6,751.7 L464.8,751.6 L466.0,752.0 L467.2,751.9 L468.4,751.8 L469.6,752.1 L470.8,752.0 L472.0,752.1 L473.2,752.2 L474.4,752.2 L475.6,752.3 L476.8,752.2 L478.0,752.0 L479.2,751.9 L480.4,752.1 L481.6,752.3 L482.8,752.5 L484.0,752.6 L485.2,752.8 L486.4,752.9 L487.6,752.8 L488.8,752.8 L490.0,752.6 L491.2,752.8 L492.4,753.1 L493.7,753.2 L494.9,753.2 L496.1,753.2 L497.3,753.4 L498.5,753.4 L499.8,753.5 L501.0,753.6 L502.2,753.6 L503.4,753.8 L504.6,753.6 L505.9,753.6 L507.1,753.5 L508.3,753.5 L509.5,753.8 L510.7,754.0 L511.9,753.8 L513.2,753.8 L514.4,753.9 L515.6,753.8 L516.8,753.9 L518.0,753.5 L519.2,753.4 L520.4,753.5 L521.6,753.7 L522.9,753.6 L524.1,753.4 L525.3,753.3 L526.5,753.2 L527.8,753.3 L529.0,753.7 L530.2,753.6 L531.5,753.7 L532.8,754.1 L534.0,754.1 L535.2,754.1 L536.5,753.9 L537.8,754.1 L539.0,754.4 L540.2,754.4 L541.5,754.5 L542.8,754.4 L544.0,754.5 L545.2,754.4 L546.5,754.6 L547.8,754.8 L549.0,754.6" fill="none" stroke="#14a046" stroke-width="2.10" stroke-linejoin="round" stroke-linecap="butt"/>
<path d="M44.0,219.8 L45.2,219.8 L46.4,219.8 L47.6,219.8 L48.9,219.8 L50.1,219.8 L51.3,219.8 L52.5,219.8 L53.7,219.7 L54.9,219.7 L56.1,219.7 L57.3,219.7 L58.6,219.7 L59.8,219.7 L61.0,219.7 L62.2,219.7 L63.5,219.8 L64.8,219.7 L66.1,219.8 L67.4,219.2 L68.7,220.1 L70.0,219.4 L71.3,218.5 L72.6,218.9 L73.9,218.8 L75.2,218.6 L76.5,218.8 L77.5,217.7 L78.8,217.1 L80.1,217.3 L81.4,218.2 L82.7,218.2 L84.0,217.7 L85.3,217.6 L86.6,217.4 L87.9,217.3 L89.2,217.7 L90.5,217.4 L91.8,216.0 L92.5,216.1 L93.8,215.8 L95.0,216.4 L96.2,216.0 L97.5,216.1 L98.8,217.2 L100.0,216.0 L101.2,215.3 L102.5,214.8 L103.8,214.0 L105.0,213.8 L106.0,214.0 L107.0,213.1 L108.0,211.4 L109.0,210.3 L110.2,211.5 L111.4,211.2 L112.7,211.3 L113.9,211.8 L115.1,212.6 L116.3,213.3 L117.6,213.1 L118.8,212.5 L120.0,212.2 L120.8,212.1 L121.7,211.3 L122.6,209.4 L123.4,208.5 L124.6,208.0 L125.8,207.3 L126.9,206.5 L128.1,205.3 L129.3,205.1 L130.5,204.0 L131.6,205.2 L132.8,205.0 L134.0,203.5 L134.9,203.8 L135.9,203.1 L136.8,200.3 L137.8,201.2 L138.8,200.3 L139.7,200.4 L140.9,199.0 L142.1,200.0 L143.3,200.8 L144.6,201.3 L145.8,201.8 L147.0,203.1 L148.5,202.1 L150.0,202.1 L150.3,200.5 L150.6,199.7 L150.8,198.6 L151.1,198.2 L151.4,197.2 L151.7,196.0 L152.0,194.2 L152.2,192.9 L152.5,192.7 L152.8,191.9 L153.4,190.3 L154.8,189.6 L156.1,190.8 L157.5,189.4 L159.1,189.4 L160.7,189.6 L162.2,187.8 L163.8,187.6 L164.5,184.7 L165.2,184.6 L165.9,183.0 L166.4,179.7 L166.9,179.5 L167.0,177.3 L167.1,177.8 L167.2,175.4 L167.3,174.2 L167.4,173.4 L167.5,171.7 L167.5,170.9 L167.6,169.1 L167.6,168.9 L167.7,167.4 L167.7,166.3 L167.8,161.7 L167.8,163.5 L167.9,162.4 L167.9,159.0 L168.0,159.1 L168.0,158.9 L168.1,158.9 L168.1,155.6 L168.1,156.7 L168.2,154.4 L168.2,156.0 L168.3,152.8 L168.3,151.7 L168.4,149.2 L168.4,146.5 L168.5,147.5 L168.5,147.0 L168.6,147.0 L168.6,145.4 L168.7,142.1 L168.7,138.5 L169.1,140.0 L169.5,141.4 L169.8,142.5 L170.2,145.5 L170.6,147.2 L171.0,147.8 L171.4,149.4 L171.8,150.4 L172.1,152.0 L172.5,154.1 L172.9,156.0 L173.2,155.4 L173.6,154.8 L174.0,158.9 L174.5,159.7 L175.0,161.9 L175.5,160.3 L176.0,161.7 L176.5,163.4 L177.0,163.2 L177.5,164.9 L178.1,167.9 L178.6,170.3 L179.1,172.7 L179.2,169.3 L179.3,166.5 L179.4,166.7 L179.5,166.6 L179.7,165.1 L179.8,162.0 L179.9,162.4 L180.0,161.9 L180.1,160.8 L180.2,158.3 L180.3,157.5 L180.4,157.1 L180.6,154.6 L180.7,151.1 L180.8,151.7 L180.9,151.5 L181.0,150.2" fill="none" stroke="#17a0d7" stroke-width="1.90" stroke-linejoin="round" stroke-linecap="butt"/>
<path d="M181.0,150.2 L181.1,149.3 L181.1,147.5 L181.2,146.3 L181.2,145.0 L181.3,144.1 L181.3,143.6 L181.4,141.8 L181.5,141.4 L181.5,140.3 L181.6,138.8 L181.6,137.4 L181.7,136.6 L181.7,134.7 L181.8,133.2 L181.9,131.4 L181.9,130.7 L182.0,130.0 L182.0,128.7 L182.1,127.4 L182.1,125.9 L182.2,124.7 L182.2,122.8 L182.3,122.4 L182.4,120.8 L182.4,119.2 L182.5,117.9 L182.5,116.7 L182.6,116.2 L182.6,115.4 L182.7,113.3 L182.8,112.7 L182.8,111.8 L182.9,110.0 L182.9,108.1 L183.0,107.0 L183.0,105.8 L183.1,105.4" fill="none" stroke="#17a0d7" stroke-width="1.1" stroke-linejoin="round" stroke-linecap="butt"/>
<path d="M183.1,105.4 L183.2,106.1 L183.2,104.8 L183.3,107.9 L183.4,107.7 L183.4,111.5 L183.5,111.1 L183.6,112.3 L183.7,113.3 L183.7,114.8 L183.8,118.6 L183.9,120.4 L183.9,121.6 L184.0,122.4 L184.1,121.0 L184.2,122.4 L184.2,123.7 L184.3,124.4 L184.4,127.3 L184.4,127.7 L184.5,128.6 L184.6,129.3 L184.8,128.9 L184.9,133.0 L185.0,136.4 L185.1,137.2 L185.2,136.7 L185.4,134.9 L185.5,138.6 L185.6,142.3 L185.8,143.5 L185.9,145.5 L186.0,147.9 L186.2,149.1 L186.4,148.3 L186.6,150.6 L186.8,151.9 L187.0,150.2 L187.2,151.6 L187.3,151.6 L187.5,154.0 L187.7,156.6 L187.9,156.4 L188.1,155.8 L188.3,160.3 L188.5,161.9 L188.7,164.6 L189.8,162.6 L191.0,164.9 L191.9,167.7 L192.9,169.4 L193.9,168.2 L194.8,168.7 L195.4,169.4 L195.9,171.8 L196.5,173.6 L196.8,171.6 L197.2,168.4 L197.5,168.6 L197.8,166.6 L197.9,168.7 L198.1,170.0 L198.2,172.6 L198.3,174.0 L198.4,173.6 L198.6,174.9 L198.7,177.6 L198.8,177.1 L199.0,178.6 L199.1,180.6 L199.6,182.2 L200.1,182.9 L200.7,182.2 L201.2,182.6 L201.7,184.8 L202.4,186.5 L203.2,189.7 L203.9,188.7 L204.6,190.5 L205.3,191.6 L205.9,190.6 L206.6,191.5 L207.3,193.2 L208.0,194.0 L208.7,195.2 L210.1,195.1 L211.4,193.7 L212.8,193.7 L214.1,193.6 L215.3,193.8 L216.6,195.0 L217.8,194.9 L219.1,195.7 L219.9,198.1 L220.7,198.6 L221.5,199.4 L222.3,201.0 L223.5,200.9 L224.6,202.1 L225.8,201.3 L227.0,202.5 L228.2,202.6 L229.3,202.6 L230.5,204.7 L231.9,203.3 L233.2,204.3 L234.6,203.8 L236.0,203.9 L237.0,203.3 L238.0,204.8 L239.0,206.1 L239.9,206.1 L240.9,206.5 L241.9,208.8 L242.9,208.7 L244.3,207.8 L245.6,207.1 L247.0,207.3 L248.1,208.1 L249.1,208.6 L250.2,210.2 L251.3,209.9 L252.4,210.6 L253.4,211.9 L254.5,211.4" fill="none" stroke="#17a0d7" stroke-width="1.90" stroke-linejoin="round" stroke-linecap="butt"/>
<path d="M44.0,219.8 L45.2,219.8 L46.4,219.8 L47.6,219.8 L48.9,219.8 L50.1,219.8 L51.3,219.8 L52.5,219.8 L53.7,219.7 L54.9,219.7 L56.1,219.7 L57.3,219.7 L58.6,219.7 L59.8,219.7 L61.0,219.7 L62.2,219.7 L63.5,219.5 L64.8,219.8 L66.1,219.5 L67.4,219.5 L68.7,219.2 L70.0,219.4 L71.3,218.8 L72.6,219.2 L73.9,218.3 L75.2,218.6 L76.5,219.9 L77.5,218.1 L78.8,217.2 L80.1,217.6 L81.4,217.1 L82.7,216.5 L84.0,216.7 L85.3,217.5 L86.6,217.6 L87.9,217.4 L89.2,216.9 L90.5,216.5 L91.8,217.6 L92.5,216.9 L93.8,216.1 L95.0,215.1 L96.2,215.0 L97.5,216.9 L98.8,215.8 L100.0,215.8 L101.2,215.9 L102.5,215.7 L103.8,215.5 L105.0,214.8 L106.0,213.7 L107.0,214.2 L108.0,212.6 L109.0,212.2 L110.2,211.0 L111.4,211.3 L112.7,211.7 L113.9,212.4 L115.1,211.4 L116.3,212.0 L117.6,212.1 L118.8,211.5 L120.0,211.9 L120.8,210.4 L121.7,209.2 L122.6,208.6 L123.4,206.2 L124.6,206.7 L125.8,206.1 L126.9,205.3 L128.1,205.4 L129.3,205.9 L130.5,205.2 L131.6,205.7 L132.8,204.1 L134.0,203.0 L134.9,203.7 L135.9,202.7 L136.8,202.2 L137.8,200.1 L138.8,199.9 L139.7,198.8 L140.9,199.7 L142.1,200.0 L143.3,201.3 L144.6,200.9 L145.8,200.9 L147.0,200.9 L148.5,202.9 L150.0,202.8 L150.3,201.1 L150.6,199.7 L150.8,198.7 L151.1,197.0 L151.4,196.3 L151.7,195.0 L152.0,193.8 L152.2,192.3 L152.5,191.7 L152.8,190.4 L153.4,189.6 L154.8,189.8 L156.1,189.8 L157.5,187.6 L159.1,187.6 L160.7,187.1 L162.2,187.6 L163.8,185.4 L164.5,184.1 L165.2,183.1 L165.9,181.8 L166.4,181.6 L166.9,179.3 L167.0,179.1 L167.1,175.9 L167.2,173.4 L167.3,174.7 L167.4,173.8 L167.5,172.8 L167.5,171.3 L167.6,170.3 L167.6,167.4 L167.7,167.8 L167.7,165.6 L167.8,165.7 L167.8,164.1 L167.9,160.3 L167.9,158.7 L168.0,160.2 L168.0,158.7 L168.1,157.0 L168.1,156.4 L168.1,154.6 L168.2,153.0 L168.2,152.4 L168.3,151.5 L168.3,152.3 L168.4,150.0 L168.4,150.8 L168.5,150.3 L168.5,149.4 L168.6,147.4 L168.6,144.6 L168.7,142.7 L168.7,140.8 L169.1,141.0 L169.5,142.6 L169.8,143.2 L170.2,147.2 L170.6,148.2 L171.0,148.1 L171.4,146.8 L171.8,149.3 L172.1,150.7 L172.5,151.1 L172.9,151.9 L173.2,151.6 L173.6,155.7 L174.0,157.5 L174.5,162.1 L175.0,161.6 L175.5,161.9 L176.0,164.5 L176.5,164.8 L177.0,165.6 L177.5,166.2 L178.1,167.0 L178.6,170.4 L179.1,172.1 L179.2,171.8 L179.3,168.8 L179.4,167.2 L179.5,164.8 L179.7,165.1 L179.8,161.9 L179.9,162.1 L180.0,162.2 L180.1,161.9 L180.2,158.3 L180.3,158.5 L180.4,155.7 L180.6,153.7 L180.7,151.4 L180.8,152.9 L180.9,153.6 L181.0,150.8" fill="none" stroke="#17a0d7" stroke-width="1.90" stroke-linejoin="round" stroke-linecap="butt"/>
<path d="M181.0,150.8 L181.1,148.8 L181.1,147.4 L181.2,147.5 L181.2,146.1 L181.3,144.1 L181.3,142.0 L181.4,140.9 L181.5,140.6 L181.5,140.1 L181.6,138.2 L181.6,136.5 L181.7,135.2 L181.7,133.2 L181.8,133.0 L181.9,131.3 L181.9,130.9 L182.0,128.7 L182.0,127.3 L182.1,126.7 L182.1,125.3 L182.2,124.7 L182.2,123.4 L182.3,121.6 L182.4,121.0 L182.4,120.1 L182.5,117.8 L182.5,117.8 L182.6,116.6 L182.6,115.4 L182.7,113.1 L182.8,111.9 L182.8,110.8 L182.9,110.3 L182.9,108.3 L183.0,107.0 L183.0,105.2 L183.1,104.3" fill="none" stroke="#17a0d7" stroke-width="1.1" stroke-linejoin="round" stroke-linecap="butt"/>
<path d="M183.1,104.3 L183.2,106.5 L183.4,105.4 L183.5,107.1 L183.7,110.0 L183.8,113.3 L184.0,114.3 L184.1,114.1 L184.3,113.6 L184.4,114.3 L184.6,115.7 L184.7,118.0 L184.8,119.5 L185.0,123.1 L185.1,123.6 L185.3,122.7 L185.4,126.4 L185.6,127.9 L185.7,128.2 L185.9,127.9 L186.0,126.9 L186.4,128.3 L186.8,132.2 L187.2,132.4 L187.6,132.5 L188.0,135.3 L188.8,137.3 L189.6,139.5 L190.4,141.2" fill="none" stroke="#17a0d7" stroke-width="1.8" stroke-dasharray="1.5 1.6" stroke-linejoin="round" stroke-linecap="butt"/>
<path d="M190.4,141.2 L190.6,143.7 L190.8,142.5 L191.0,145.0 L191.1,144.2 L191.3,146.8 L191.5,148.0 L191.7,149.2 L191.9,151.5 L192.1,151.8 L192.3,154.2 L192.4,155.6 L192.6,155.9 L192.8,155.9 L193.0,156.4 L193.2,155.0 L193.5,154.2 L193.8,153.3 L194.0,156.2 L194.2,153.7 L194.5,151.5" fill="none" stroke="#17a0d7" stroke-width="1.90" stroke-linejoin="round" stroke-linecap="butt"/>
<path d="M194.5,151.5 L194.5,149.1 L194.6,147.4 L194.6,146.2 L194.7,145.2 L194.7,143.5 L194.8,143.3 L194.8,141.6 L194.8,140.9 L194.9,138.3 L194.9,137.6 L195.0,136.8 L195.0,135.7 L195.1,134.7 L195.1,133.5 L195.2,132.2 L195.2,130.0 L195.2,128.9 L195.3,127.0 L195.3,126.9 L195.4,126.0 L195.4,124.7 L195.5,123.2 L195.5,121.9 L195.5,121.8 L195.6,121.1 L195.6,119.3 L195.7,118.4 L195.7,116.0 L195.8,114.1 L195.8,113.3 L195.8,112.1 L195.9,111.0 L195.9,110.2 L196.0,110.5 L196.0,108.3 L196.1,107.0 L196.1,105.8 L196.2,104.5 L196.2,103.7 L196.2,103.0 L196.3,100.7 L196.3,99.6 L196.4,98.3 L196.4,97.3 L196.5,95.3 L196.5,93.7 L196.6,92.0 L196.6,91.9 L196.7,91.0 L196.8,89.8 L196.8,87.5 L196.9,86.7 L197.0,85.5 L197.0,83.9 L197.1,82.8 L197.2,82.3 L197.2,81.4 L197.3,80.0 L197.4,78.9 L197.4,77.2 L197.5,76.1 L197.6,74.9 L197.6,73.9 L197.7,72.5 L197.8,71.2 L197.8,69.9 L197.9,67.8" fill="none" stroke="#17a0d7" stroke-width="1.1" stroke-linejoin="round" stroke-linecap="butt"/>
<path d="M197.9,67.8 L198.0,72.5 L198.1,73.0 L198.2,73.8 L198.2,77.3 L198.3,78.4 L198.4,75.6 L198.5,78.0 L198.6,80.0 L198.7,82.9 L198.8,84.2 L198.9,84.7 L198.9,83.0 L199.0,83.4 L199.1,85.7 L199.2,87.8 L199.3,87.3 L199.4,88.7 L199.5,89.9 L199.6,91.8 L199.7,93.6 L199.7,94.3 L199.8,94.1 L199.9,97.9 L200.0,100.8 L200.1,100.5 L200.2,102.6 L200.3,103.4 L200.4,104.7 L200.5,105.8 L200.7,105.3 L200.8,107.5 L200.9,109.7 L201.0,108.9 L201.1,113.0 L201.2,115.7 L201.3,117.2 L201.4,118.8 L201.5,118.5 L201.6,117.6 L201.7,117.6 L201.8,117.9 L201.9,120.0 L202.1,121.4 L202.2,123.7 L202.3,121.8 L202.4,127.4 L202.5,130.5 L202.6,129.5 L202.8,130.7 L203.0,131.6 L203.2,132.5 L203.4,132.9 L203.6,133.8 L203.8,134.0 L204.1,136.1 L204.3,137.4 L204.5,139.2 L204.7,139.1 L204.9,140.9 L205.1,142.4 L205.3,144.4" fill="none" stroke="#17a0d7" stroke-width="1.8" stroke-dasharray="1.5 1.6" stroke-linejoin="round" stroke-linecap="butt"/>
<path d="M205.3,144.4 L205.6,144.0 L206.0,146.5 L206.3,149.1 L206.7,150.4 L207.0,150.5 L207.6,151.2 L208.1,152.6 L208.7,155.3 L209.9,157.8 L211.0,157.3 L212.2,157.0 L212.9,158.7 L213.5,159.9 L214.2,159.7 L214.8,160.4 L215.5,162.1 L216.7,163.2 L217.9,161.5 L219.1,160.9 L219.9,163.5 L220.7,163.3 L221.5,165.3 L222.3,167.0 L223.2,167.7 L224.0,167.5 L224.9,168.9 L225.8,169.7 L226.6,171.3 L227.5,171.2 L228.3,173.7 L229.2,172.4 L230.3,172.4 L231.5,172.3 L232.6,172.9 L233.7,171.2 L234.9,171.4 L236.0,169.9 L237.0,171.8 L238.1,174.2 L239.1,173.5 L240.1,174.5 L240.8,174.2 L241.5,176.5 L242.2,178.4 L242.9,178.6 L243.6,178.1 L244.2,180.0 L244.9,182.1 L245.6,183.5 L246.3,184.4 L247.0,183.0 L248.3,182.7 L249.7,184.4 L251.0,182.5 L252.2,183.1 L253.3,183.6 L254.5,180.6" fill="none" stroke="#17a0d7" stroke-width="1.90" stroke-linejoin="round" stroke-linecap="butt"/>
<path d="M338.0,219.9 L339.3,219.9 L340.5,219.9 L341.8,219.8 L343.0,219.8 L344.3,219.8 L345.5,219.8 L346.8,219.8 L348.0,219.7 L349.3,219.7 L350.5,219.7 L351.8,219.7 L353.0,219.7 L354.3,219.6 L355.5,219.6 L356.8,219.3 L358.0,221.4 L359.2,221.1 L360.4,220.4 L361.6,220.2 L362.9,220.3 L364.1,220.2 L365.3,220.8 L366.5,220.0 L367.7,220.4 L369.0,220.3 L370.2,219.6 L371.4,219.9 L372.6,219.9 L373.8,220.2 L375.0,219.8 L376.2,220.0 L377.5,219.2 L378.7,219.1 L379.9,219.9 L381.1,220.4 L382.3,220.1 L383.6,219.7 L384.8,220.3 L386.0,219.1 L387.2,219.1 L388.4,219.8 L389.6,220.1 L390.9,219.5 L392.1,218.7 L393.3,220.0 L394.5,219.9 L395.7,219.4 L396.9,219.6 L398.2,220.1 L399.4,218.6 L400.6,219.8 L401.8,220.1 L403.0,218.8 L404.2,219.6 L405.4,218.7 L406.7,219.7 L407.9,219.7 L409.1,220.6 L410.3,219.6 L411.5,219.4 L412.7,219.8 L413.9,219.1 L415.1,218.7 L416.4,218.7 L417.6,218.8 L418.8,218.3 L420.0,218.9 L421.2,219.2 L422.4,219.1 L423.6,219.9 L424.8,219.3 L426.0,219.9 L427.2,219.2 L428.4,219.6 L429.6,218.5 L430.8,219.0 L432.0,219.1 L433.3,219.1 L434.6,219.1 L435.9,219.2 L437.2,219.2 L438.5,218.5 L439.8,219.0 L441.1,219.3 L442.4,219.6 L443.7,219.5 L445.0,219.9 L446.2,220.6 L447.4,220.4 L448.6,220.3 L449.9,221.1 L451.1,221.4 L452.3,221.5 L453.5,221.7 L454.7,221.2 L455.9,221.1 L457.1,221.6 L458.4,221.1 L459.6,221.2 L460.8,221.5 L462.0,221.6 L463.2,221.5 L464.4,222.0 L465.6,221.8 L466.8,222.1 L468.0,222.5 L469.2,222.5 L470.4,222.6 L471.6,221.8 L472.8,221.4 L474.0,221.6 L475.2,222.2 L476.4,223.0 L477.6,222.2 L478.8,222.5 L480.0,222.2 L481.2,222.2 L482.5,222.5 L483.8,223.1 L485.0,223.2 L486.2,223.8 L487.5,223.1 L488.8,223.7 L490.0,224.0 L491.2,223.9 L492.5,224.1 L493.8,223.7 L495.0,223.4 L496.2,223.7 L497.5,223.7 L498.8,225.3 L500.0,224.7 L501.2,225.3 L502.5,225.1 L503.8,225.1 L505.0,225.4 L506.2,224.9 L507.5,225.5 L508.8,225.6 L510.0,224.9 L511.2,225.6 L512.5,225.9 L513.8,226.1 L515.0,226.7 L516.2,226.2 L517.5,226.4 L518.8,226.7 L520.0,226.2 L521.2,226.9 L522.4,226.2 L523.6,226.0 L524.8,226.7 L526.0,226.4 L527.2,226.7 L528.4,226.3 L529.6,226.8 L530.8,226.6 L532.0,227.2 L533.2,226.7 L534.4,227.4 L535.6,227.4 L536.8,227.6 L538.0,227.7 L539.2,227.9 L540.4,227.5 L541.6,226.8 L542.8,227.6 L544.0,227.6 L545.2,227.9 L546.4,228.4 L547.6,228.5" fill="none" stroke="#17a0d7" stroke-width="1.90" stroke-linejoin="round" stroke-linecap="butt"/>
<path d="M44.0,485.6 L45.2,485.6 L46.4,485.6 L47.6,485.6 L48.9,485.6 L50.1,485.6 L51.3,485.6 L52.5,485.6 L53.7,485.5 L54.9,485.5 L56.1,485.5 L57.3,485.5 L58.6,485.5 L59.8,485.5 L61.0,485.5 L62.2,485.5 L63.6,485.8 L65.0,485.7 L66.3,485.1 L67.6,484.8 L68.8,485.1 L70.1,484.6 L71.4,485.0 L72.7,483.8 L73.9,484.4 L75.2,484.1 L76.5,483.1 L78.4,483.1 L79.7,483.0 L81.0,482.7 L82.2,481.9 L83.5,481.7 L84.8,482.5 L86.1,481.5 L87.3,479.6 L88.6,479.9 L89.9,479.8 L91.2,480.1 L92.4,480.0 L93.7,479.6 L95.0,479.5 L96.3,480.5 L97.5,479.6 L98.8,481.1 L100.1,480.3 L101.4,479.7 L102.6,480.5 L103.9,480.7 L105.2,479.9 L106.2,479.6 L107.1,477.4 L108.0,476.4 L109.0,476.6 L110.2,476.1 L111.4,475.1 L112.6,475.6 L113.8,476.0 L115.0,475.4 L116.2,474.0 L117.4,474.1 L118.6,474.5 L119.2,473.8 L119.9,473.7 L120.5,471.6 L121.1,469.9 L121.8,468.8 L122.4,468.6 L123.7,467.5 L125.0,468.6 L126.2,466.2 L127.5,467.7 L128.8,467.3 L130.1,467.9 L131.3,468.3 L132.6,467.2 L133.9,467.5 L134.3,466.6 L134.6,465.9 L135.0,463.7 L135.4,462.1 L135.7,460.0 L136.1,461.8 L136.4,459.8 L136.8,458.3 L137.1,455.8 L137.3,456.1 L137.6,454.3 L137.9,454.5 L138.2,453.4 L138.4,451.5 L138.7,450.6 L139.7,449.9 L140.6,450.7 L141.6,451.2 L142.5,451.3 L143.5,452.9 L144.5,453.8 L145.4,456.1 L146.4,453.4 L147.3,454.9 L148.3,455.8 L149.4,455.1 L150.5,454.9 L150.6,454.1 L150.7,452.7 L150.8,451.0 L150.9,450.4 L151.0,449.4 L151.1,446.2 L151.2,445.6 L151.3,443.5 L151.4,442.1 L151.5,442.1 L151.7,441.4 L151.8,440.4 L151.9,438.3 L152.0,437.4 L152.1,435.5 L152.2,435.4 L152.3,435.1 L152.4,435.4 L152.5,434.4 L152.6,430.9 L152.7,429.1 L152.8,427.0 L153.1,429.2 L153.5,432.8 L153.8,433.5 L154.1,431.3 L154.5,431.9 L154.8,432.9 L155.1,435.9 L155.5,437.3 L155.8,438.9 L157.1,441.2 L158.3,439.9 L158.9,440.3 L159.5,443.9 L160.1,444.6 L160.7,444.5 L161.3,443.9 L161.8,442.4 L162.4,440.1 L162.9,440.9 L163.5,440.6 L164.0,440.7 L164.1,439.0 L164.2,436.9 L164.2,435.3 L164.3,436.7 L164.4,432.7 L164.5,432.3 L164.6,431.3 L164.7,430.9 L164.7,428.8 L164.8,428.3 L164.9,427.8 L165.0,425.7 L165.1,423.8 L165.2,422.5 L165.2,420.3 L165.3,419.6 L165.4,418.5 L165.5,418.0 L165.6,418.5 L165.7,418.1 L165.7,414.9 L165.8,414.2 L165.9,412.8 L166.0,412.1 L166.1,410.2 L166.2,408.9 L166.2,406.7 L166.3,404.7 L166.4,405.3 L166.5,405.4 L166.6,404.0 L166.7,402.3 L166.7,400.7 L166.8,398.4 L166.9,394.9 L167.0,395.9 L167.1,395.0 L167.2,393.0 L167.2,390.9 L167.3,392.2 L167.4,388.1 L167.5,390.2 L167.5,389.1 L167.6,390.2 L167.6,385.9 L167.7,384.3 L167.7,382.2 L167.8,381.5 L167.9,380.0 L167.9,378.0 L168.0,378.8 L168.0,376.1 L168.1,374.5 L168.2,374.6 L168.2,372.5 L168.3,371.0 L168.3,370.7 L168.4,369.0 L168.4,366.4 L168.5,366.0" fill="none" stroke="#17a0d7" stroke-width="1.90" stroke-linejoin="round" stroke-linecap="butt"/>
<path d="M168.5,366.0 L168.6,367.5 L168.7,371.4 L168.8,370.1 L168.8,372.9 L168.9,372.5 L169.0,373.6 L169.1,374.7 L169.2,376.7 L169.3,379.1 L169.4,382.0 L169.4,380.8 L169.5,383.5 L169.6,385.0 L169.7,386.0 L169.8,385.1 L169.9,387.6 L170.0,388.0 L170.1,389.5 L170.1,390.0 L170.2,392.1 L170.3,394.3 L170.4,396.0 L170.5,395.7 L170.6,397.8 L170.7,400.0 L170.7,398.5 L170.8,401.7 L170.9,400.1 L171.0,402.5 L171.1,404.3 L171.2,407.0 L171.3,407.3 L171.4,407.1 L171.4,407.2 L171.5,407.4 L171.6,410.7 L171.7,411.6 L171.8,412.0 L171.9,414.5 L172.0,414.6 L172.0,415.8 L172.1,416.9 L172.2,420.8 L172.3,423.0" fill="none" stroke="#17a0d7" stroke-width="1.8" stroke-dasharray="1.5 1.6" stroke-linejoin="round" stroke-linecap="butt"/>
<path d="M172.3,423.0 L172.9,422.6 L173.5,421.3 L174.1,423.7 L174.7,425.2 L175.3,426.9 L176.2,428.3 L177.2,428.4 L178.1,430.3 L179.0,431.6 L179.4,432.3 L179.9,432.6 L180.3,433.3 L180.7,435.6 L181.1,435.3 L181.6,436.9 L182.0,437.6 L182.3,438.0 L182.6,440.9 L182.9,442.2 L183.2,443.6 L183.8,443.2 L184.4,440.0 L185.0,439.3 L185.8,441.2 L186.7,443.2 L187.5,442.9 L187.8,445.2 L188.1,446.4 L188.4,448.7 L188.7,450.2 L189.0,450.9 L189.3,453.4 L189.6,453.2 L189.9,453.4 L190.8,454.1 L191.6,454.4 L192.5,455.8 L193.3,455.5 L194.2,457.4 L194.4,457.0 L194.5,456.6 L194.7,454.7 L194.8,454.6 L195.0,452.2 L195.2,450.9 L195.3,448.1 L195.5,447.1 L195.6,446.0 L195.8,447.0 L196.0,445.9 L196.1,443.2 L196.3,442.9 L196.4,442.0 L196.6,440.3 L196.8,439.1 L196.9,437.6 L197.1,436.0 L197.2,433.3 L197.4,433.2 L197.6,434.0 L197.7,433.9 L197.9,431.3 L198.0,428.9 L198.2,427.8 L198.4,427.9 L198.5,426.7 L198.7,424.4 L198.8,423.8 L199.0,422.2 L199.3,424.2 L199.5,424.7 L199.8,424.4 L200.1,426.7 L200.4,429.3 L200.6,429.1 L200.9,430.8 L201.0,433.4 L201.2,433.9 L201.3,434.5 L201.5,438.4 L201.6,439.5 L201.7,440.9 L201.9,440.3 L202.0,443.3 L202.2,442.1 L202.3,443.4 L203.9,445.1 L204.2,447.3 L204.5,446.9 L204.8,447.6 L205.1,449.3 L205.4,448.9 L205.7,451.6 L206.0,453.4 L206.3,454.0 L206.6,455.7 L206.9,457.3 L207.2,458.3 L208.4,458.7 L209.6,459.8 L210.8,458.9 L212.1,459.2 L213.3,459.0 L214.5,460.2 L215.7,459.9 L216.9,460.6 L218.1,461.1 L219.3,461.6 L220.6,463.3 L221.8,463.1 L223.0,464.5 L223.9,465.2 L224.8,466.3 L225.7,466.3 L226.7,467.4 L227.6,468.3 L228.5,468.2 L229.4,469.2 L230.3,469.9 L231.5,470.3 L232.7,471.5 L234.0,471.0 L235.2,470.5 L236.4,470.4 L237.6,471.4 L238.9,471.9 L240.1,472.8 L241.3,473.8 L242.5,475.0 L243.7,474.8 L245.0,475.0 L246.2,474.5 L247.4,475.2 L248.6,476.1 L249.8,476.7 L251.0,475.2 L252.3,476.3 L253.5,477.3 L254.7,476.6" fill="none" stroke="#17a0d7" stroke-width="1.90" stroke-linejoin="round" stroke-linecap="butt"/>
<path d="M338.0,485.4 L339.3,485.4 L340.5,485.3 L341.8,485.3 L343.0,485.3 L344.3,485.3 L345.5,485.2 L346.8,485.2 L348.0,485.2 L349.3,485.2 L350.5,485.1 L351.8,485.1 L353.0,485.1 L354.3,485.1 L355.5,485.0 L356.8,485.7 L358.0,484.6 L359.2,484.2 L360.4,484.6 L361.7,484.9 L362.9,485.2 L364.1,484.8 L365.3,484.6 L366.5,484.5 L367.7,484.3 L368.9,483.2 L370.1,484.4 L371.4,484.6 L372.6,484.6 L373.8,484.2 L375.0,484.4 L376.2,484.4 L377.5,484.4 L378.8,484.9 L380.0,483.9 L381.2,484.3 L382.5,483.9 L383.8,484.1 L385.0,485.0 L386.2,484.2 L387.5,484.4 L388.8,484.2 L390.0,484.8 L391.2,484.2 L392.5,483.6 L393.8,484.4 L395.0,484.4 L396.2,484.4 L397.5,485.1 L398.8,484.5 L400.0,484.6 L401.2,484.9 L402.5,485.1 L403.8,484.9 L405.0,485.5 L406.2,486.4 L407.5,485.6 L408.8,486.3 L410.0,484.8 L411.2,485.8 L412.5,485.5 L413.8,485.6 L415.0,485.5 L416.2,485.2 L417.5,484.8 L418.7,484.9 L419.9,485.8 L421.2,486.1 L422.4,485.5 L423.6,485.1 L424.8,484.8 L426.1,484.4 L427.3,485.6 L428.5,485.6 L429.8,485.3 L431.0,484.9 L432.3,484.6 L433.6,485.6 L434.9,485.9 L436.1,485.3 L437.4,486.0 L438.7,485.4 L440.0,486.0 L441.2,485.9 L442.4,486.2 L443.6,487.0 L444.9,487.5 L446.1,488.2 L447.3,487.9 L448.5,488.6 L449.7,488.9 L450.9,488.4 L452.2,488.4 L453.4,487.8 L454.6,487.9 L455.8,487.4 L457.0,487.8 L458.2,488.0 L459.5,488.6 L460.7,488.7 L461.9,488.6 L463.1,488.3 L464.3,488.3 L465.5,488.3 L466.7,488.6 L467.9,488.0 L469.1,488.9 L470.4,488.4 L471.6,488.7 L472.8,489.2 L474.0,489.2 L475.2,490.2 L476.4,490.0 L477.6,490.7 L478.8,490.9 L480.0,490.4 L481.2,490.7 L482.5,491.2 L483.7,490.9 L484.9,491.0 L486.1,490.8 L487.3,491.1 L488.6,491.1 L489.8,491.4 L491.0,491.9 L492.2,492.4 L493.4,492.2 L494.7,492.2 L495.9,492.5 L497.1,492.2 L498.3,491.9 L499.6,492.6 L500.8,492.2 L502.0,492.8 L503.3,492.5 L504.5,493.4 L505.7,492.8 L507.0,493.3 L508.2,493.8 L509.4,493.2 L510.6,493.9 L511.9,493.4 L513.1,492.9 L514.3,493.6 L515.6,493.9 L516.8,493.8 L518.1,492.9 L519.3,493.4 L520.5,493.6 L521.8,493.6 L523.0,493.7 L524.2,493.3 L525.5,493.5 L526.7,494.5 L528.0,494.9 L529.2,494.4 L530.4,494.1 L531.7,494.3 L532.9,494.7 L534.1,494.8 L535.4,494.2 L536.6,494.4 L537.9,494.5 L539.1,495.1 L540.3,495.2 L541.6,495.1 L542.8,495.3 L544.0,494.9 L545.3,495.4 L546.5,494.9 L547.8,495.0 L549.0,494.9" fill="none" stroke="#17a0d7" stroke-width="1.90" stroke-linejoin="round" stroke-linecap="butt"/>
<path d="M44.0,750.6 L45.2,750.5 L46.4,750.5 L47.6,750.4 L48.9,750.4 L50.1,750.3 L51.3,750.2 L52.5,750.2 L53.7,750.1 L54.9,750.1 L56.1,750.0 L57.3,749.9 L58.6,749.9 L59.8,749.8 L61.0,749.8 L62.2,749.7 L63.4,749.5 L64.6,749.8 L65.8,749.3 L67.0,749.9 L68.2,749.2 L69.5,749.7 L70.7,749.7 L71.9,749.7 L73.1,750.5 L74.3,749.7 L75.5,749.4 L76.7,749.5 L77.9,749.7 L79.1,748.8 L80.3,749.1 L81.5,748.7 L82.7,749.2 L84.0,749.7 L85.2,749.3 L86.4,749.0 L87.6,749.0 L88.8,747.5 L90.0,748.6 L91.3,748.3 L92.7,747.7 L94.0,746.8 L95.2,746.4 L96.4,746.5 L97.7,747.3 L98.9,746.9 L100.1,747.4 L101.3,745.7 L102.6,745.9 L103.8,746.4 L105.0,746.4 L106.0,744.8 L107.0,744.1 L108.0,744.3 L109.3,743.5 L110.7,743.3 L112.0,743.2 L113.3,743.5 L114.6,744.3 L115.9,744.6 L117.3,743.4 L118.6,744.8 L119.5,743.4 L120.5,742.4 L121.5,742.7 L122.4,741.4 L123.6,740.4 L124.8,740.3 L126.0,740.1 L127.2,739.8 L128.4,739.9 L129.6,740.7 L130.8,740.6 L132.0,739.5 L133.1,740.8 L134.3,738.7 L135.4,738.0 L136.6,737.2 L137.7,736.9 L139.0,736.3 L140.3,736.4 L141.6,737.4 L142.8,736.5 L144.1,735.2 L145.4,735.4 L146.6,734.4 L147.7,734.0 L148.8,733.9 L150.0,733.7 L150.7,732.2 L151.4,731.7 L152.1,730.1 L152.8,727.9 L154.0,727.9 L155.4,727.5 L156.9,728.4 L158.3,727.5 L159.5,727.2 L160.7,726.5 L161.9,723.5 L163.1,722.7 L164.3,722.2 L164.8,723.1 L165.4,720.3 L165.9,720.6 L166.4,720.3 L166.9,719.1 L167.5,718.1 L168.0,716.0 L169.2,715.2 L170.5,714.6 L171.7,714.1 L172.5,715.4 L173.3,715.8 L174.1,716.1 L174.9,716.9 L175.8,718.7 L176.6,718.3 L177.4,719.1 L178.2,720.6 L179.0,721.8 L179.3,720.9 L179.6,717.9 L179.8,717.8 L180.1,717.1 L180.4,717.1 L180.7,714.0 L181.0,713.5 L181.2,713.2 L181.5,712.5 L181.8,712.2 L182.1,711.3 L182.4,708.3 L182.6,707.8 L182.9,706.1 L183.2,704.2 L183.8,707.2 L184.3,707.1 L184.8,707.4 L185.4,708.6 L185.9,709.4 L186.5,712.0 L187.0,713.2 L187.6,715.3 L188.1,715.9 L188.7,715.9 L189.4,717.9 L190.1,718.0 L190.8,718.7 L191.4,719.9 L192.1,721.2 L192.8,723.3 L193.5,723.4 L194.2,724.7 L194.5,723.4 L194.8,721.2 L195.1,719.7 L195.4,719.1 L195.7,718.6 L196.0,717.8 L196.4,716.8 L196.7,715.4 L197.0,713.7 L197.3,713.1 L197.6,710.8 L197.9,708.9 L198.2,708.3 L198.8,708.6 L199.4,710.2 L200.0,711.3 L200.6,712.6 L201.3,714.2 L201.9,714.9 L202.5,716.1 L203.1,716.2 L203.7,718.4 L204.7,718.8 L205.8,720.4 L206.8,718.9 L207.8,720.3 L208.9,722.1 L209.9,721.2 L211.2,722.1 L212.4,722.8 L213.7,723.0 L214.9,721.9 L216.2,722.6 L217.4,722.9 L218.7,722.1 L219.9,723.0 L221.1,722.6 L222.4,722.3 L223.6,721.7 L224.9,722.1 L226.1,721.7 L227.4,722.3 L228.6,721.8 L229.8,721.7 L231.1,722.3 L232.3,723.9 L233.5,724.1 L234.7,724.2 L236.0,724.2 L237.2,723.6 L238.5,721.5 L239.7,722.3 L241.0,722.7 L242.2,722.7 L243.5,721.8 L244.7,722.9 L245.9,722.6 L247.2,722.2 L248.4,722.1 L249.7,722.9 L250.9,722.3 L252.2,722.2 L253.4,724.6 L254.7,723.8" fill="none" stroke="#17a0d7" stroke-width="1.90" stroke-linejoin="round" stroke-linecap="butt"/>
<path d="M338.0,750.4 L339.3,750.3 L340.5,750.3 L341.8,750.2 L343.0,750.2 L344.3,750.1 L345.5,750.1 L346.8,750.0 L348.0,750.0 L349.3,749.9 L350.5,749.9 L351.8,749.8 L353.0,749.8 L354.3,749.7 L355.5,749.7 L356.8,749.9 L358.0,750.0 L359.2,749.7 L360.4,748.8 L361.6,748.6 L362.8,750.4 L364.0,749.9 L365.2,750.0 L366.4,750.0 L367.6,750.2 L368.8,749.7 L370.0,748.9 L371.2,748.8 L372.4,747.8 L373.7,748.2 L374.9,749.0 L376.2,747.8 L377.4,748.5 L378.7,749.1 L380.0,749.6 L381.2,748.8 L382.5,748.6 L383.7,747.9 L385.0,748.0 L386.0,748.2 L387.0,748.6 L388.0,746.8 L389.3,747.6 L390.5,747.5 L391.8,747.0 L393.0,748.1 L394.3,746.2 L395.5,746.6 L396.8,746.9 L398.0,748.1 L399.3,748.4 L400.5,748.1 L401.6,746.5 L402.8,745.8 L404.0,746.1 L405.3,745.8 L406.5,745.5 L407.8,745.2 L409.0,744.9 L410.3,744.4 L411.5,745.8 L412.8,745.2 L414.0,744.1 L415.2,744.3 L416.4,743.9 L417.6,743.5 L418.9,744.4 L420.2,743.7 L421.5,743.2 L422.8,742.7 L424.1,742.7 L425.4,742.5 L426.7,742.7 L428.0,744.3 L428.9,742.7 L429.8,740.8 L430.6,741.1 L431.5,740.1 L432.4,739.2 L433.6,739.3 L434.9,739.5 L436.1,739.6 L437.3,740.3 L438.5,740.4 L439.8,740.8 L441.0,740.0 L442.2,739.2 L443.4,738.0 L444.6,738.2 L445.5,737.6 L446.5,736.0 L447.4,735.5 L448.3,736.1 L449.5,736.0 L450.7,734.5 L451.9,734.5 L453.1,735.1 L454.3,735.0 L455.7,735.5 L457.2,736.5 L458.6,736.6 L459.3,734.3 L459.9,733.8 L460.6,732.4 L461.3,731.2 L461.9,729.6 L462.6,727.5 L463.9,727.9 L465.1,729.0 L466.4,729.3 L467.7,728.7 L468.6,731.6 L469.5,731.8 L470.4,732.7 L471.4,734.3 L472.3,733.6 L473.2,736.1 L473.7,734.4 L474.3,733.8 L474.8,732.1 L475.4,731.3 L475.9,730.1 L476.4,728.8 L477.0,726.2 L477.5,724.6 L478.5,726.3 L479.4,728.7 L480.4,728.7 L481.3,730.0 L482.3,730.8 L483.5,731.6 L484.7,732.6 L486.0,731.7 L487.2,732.9 L488.4,733.4 L488.9,732.2 L489.4,730.6 L489.8,729.3 L490.3,727.8 L490.8,726.5 L491.3,728.0 L491.7,727.4 L492.2,725.2 L492.7,724.2 L493.9,723.3 L495.0,721.8 L496.1,722.1 L497.3,724.0 L498.5,725.8 L499.8,725.6 L501.0,724.9 L502.2,725.2 L503.4,724.9 L504.6,724.5 L505.8,725.3 L507.0,725.6 L508.3,725.5 L509.5,725.5 L510.7,725.6 L511.9,726.5 L513.1,727.9 L514.3,727.4 L515.6,729.1 L516.8,727.1 L518.0,728.0 L519.2,727.6 L520.5,728.4 L521.7,729.3 L522.9,730.2 L524.1,731.0 L525.3,730.3 L526.5,729.6 L527.8,730.2 L529.0,730.9 L530.2,730.6 L531.4,731.9 L532.6,733.2 L533.8,731.8 L535.1,732.6 L536.3,733.6 L537.5,732.3 L538.7,733.3 L539.8,733.9 L541.0,733.7 L542.1,735.8 L543.3,736.3 L544.4,736.4 L545.6,737.4 L546.7,738.3 L547.9,739.1 L549.0,739.0" fill="none" stroke="#17a0d7" stroke-width="1.90" stroke-linejoin="round" stroke-linecap="butt"/>
<path d="M44.0,219.8 L45.2,219.8 L46.4,219.8 L47.6,219.8 L48.9,219.8 L50.1,219.8 L51.3,219.8 L52.5,219.8 L53.7,219.7 L54.9,219.7 L56.1,219.7 L57.3,219.7 L58.6,219.7 L59.8,219.7 L61.0,219.7 L62.2,219.7 L63.0,218.3 L64.2,218.6 L65.5,218.4 L66.7,218.4 L67.9,218.4 L69.1,218.7 L70.4,218.6 L71.6,218.3 L72.8,218.0 L74.0,217.6 L75.3,217.5 L76.5,217.8 L77.5,216.3 L78.8,216.1 L80.1,215.6 L81.4,215.3 L82.7,215.8 L84.0,216.3 L85.3,216.2 L86.6,215.5 L87.9,215.6 L89.2,215.8 L90.5,215.5 L91.8,215.8 L92.5,214.1 L93.8,213.8 L95.0,213.5 L96.3,214.2 L97.6,214.3 L98.8,213.8 L100.1,213.6 L101.4,214.2 L102.7,214.3 L103.9,214.0 L105.2,214.6 L106.2,213.2 L107.1,211.7 L108.0,211.4 L109.0,210.3 L110.3,210.3 L111.6,210.2 L112.8,209.6 L114.1,209.2 L115.4,209.5 L116.7,210.2 L117.9,209.5 L119.2,210.1 L120.5,209.9 L121.0,208.1 L121.5,207.3 L122.0,206.4 L122.4,204.8 L122.9,202.8 L123.4,202.5 L124.7,201.9 L126.0,202.3 L127.3,201.2 L128.7,201.5 L130.0,201.2 L131.3,200.6 L132.6,200.8 L133.9,201.0 L135.3,200.7 L136.8,200.1 L138.2,200.5 L139.7,199.6 L141.0,200.7 L142.2,201.4 L143.5,202.5 L144.8,202.7 L146.0,202.7 L147.3,202.9 L148.8,203.1 L150.2,202.8 L150.8,202.7 L151.4,201.6 L152.1,200.0 L152.7,198.3 L153.3,198.2 L154.7,198.4 L156.1,197.6 L157.5,198.4 L158.9,199.8 L160.3,199.7 L161.7,200.1 L162.6,198.8 L163.4,197.6 L164.3,197.5 L165.2,198.1 L166.0,196.3 L166.9,194.8 L168.4,195.1 L170.0,194.6 L171.1,195.6 L172.1,196.4 L173.2,196.2 L174.2,196.4 L175.3,197.3 L176.5,198.4 L177.8,198.8 L179.0,199.7 L180.3,198.9 L181.5,199.8 L182.8,198.7 L184.1,198.1 L185.0,199.3 L186.0,199.6 L186.9,200.7 L187.9,201.2 L188.8,202.7 L189.9,203.1 L190.9,203.7 L191.9,204.7 L193.0,205.1 L194.1,206.5 L195.1,206.7 L196.1,207.8 L197.2,208.4 L198.3,208.4 L199.5,209.2 L200.7,209.6 L201.8,210.3 L202.8,211.1 L203.8,212.7 L204.8,212.9 L205.7,214.1 L206.7,214.6 L207.7,214.5 L208.7,214.5 L209.9,215.6 L211.2,215.3 L212.4,216.3 L213.6,217.1 L214.9,217.3 L216.1,217.4 L217.4,217.6 L218.6,218.0 L219.8,218.2 L221.1,218.4 L222.3,218.7 L223.5,219.3 L224.8,219.1 L226.0,219.4 L227.3,219.0 L228.5,219.1 L229.8,219.0 L231.0,219.4 L232.3,219.9 L233.5,220.1 L234.8,220.0 L236.0,220.4 L237.2,220.3 L238.5,220.6 L239.7,220.8 L240.9,221.0 L242.2,220.2 L243.4,220.3 L244.6,221.1 L245.9,221.2 L247.1,222.2 L248.3,221.8 L249.6,221.7 L250.8,222.3 L252.0,222.4 L253.3,222.9 L254.5,222.3" fill="none" stroke="#fdb614" stroke-width="1.90" stroke-linejoin="round" stroke-linecap="butt"/>
<path d="M44.0,219.8 L45.2,219.8 L46.4,219.8 L47.6,219.8 L48.9,219.8 L50.1,219.8 L51.3,219.8 L52.5,219.8 L53.7,219.7 L54.9,219.7 L56.1,219.7 L57.3,219.7 L58.6,219.7 L59.8,219.7 L61.0,219.7 L62.2,219.7 L63.0,218.6 L64.2,218.9 L65.5,218.9 L66.7,218.7 L67.9,218.3 L69.1,217.7 L70.4,217.7 L71.6,217.6 L72.8,217.7 L74.0,217.5 L75.3,218.6 L76.5,217.4 L77.5,216.2 L78.8,215.8 L80.1,215.6 L81.4,216.0 L82.7,215.8 L84.0,215.2 L85.3,215.6 L86.6,215.5 L87.9,214.7 L89.2,215.2 L90.5,214.9 L91.8,214.9 L92.5,213.7 L93.8,213.8 L95.0,213.6 L96.3,214.5 L97.6,214.2 L98.8,213.6 L100.1,213.7 L101.4,213.6 L102.7,212.7 L103.9,212.5 L105.2,212.5 L106.2,212.9 L107.1,211.6 L108.0,210.4 L109.0,209.2 L110.3,209.7 L111.6,209.5 L112.8,210.1 L114.1,209.9 L115.4,210.2 L116.7,209.5 L117.9,209.4 L119.2,208.9 L120.5,208.8 L121.0,206.9 L121.5,205.8 L122.0,204.5 L122.4,203.3 L122.9,203.0 L123.4,201.8 L124.7,202.0 L126.0,201.7 L127.3,201.5 L128.7,201.3 L130.0,200.2 L131.3,200.3 L132.6,199.6 L133.9,199.0 L135.1,199.4 L136.2,199.9 L137.4,198.3 L138.5,198.7 L139.7,198.3 L141.0,197.6 L142.2,198.1 L143.5,198.4 L144.8,198.8 L146.0,198.7 L147.3,198.3 L148.8,198.1 L150.2,198.0 L150.5,197.0 L150.7,195.8 L151.0,194.8 L151.2,192.5 L151.5,191.3 L151.8,190.3 L152.0,189.5 L152.3,188.0 L152.5,186.8 L152.8,185.3 L153.0,185.3 L153.3,181.7 L154.0,183.4 L154.7,186.4 L155.4,187.0 L156.0,184.3 L156.6,183.8 L157.2,182.0 L157.8,181.1 L158.4,180.7 L159.2,183.2 L159.9,184.2 L160.7,185.4 L161.5,186.8 L162.2,187.5 L163.0,187.9 L163.8,189.1 L164.8,190.5 L165.9,191.3 L166.9,192.0 L167.4,193.2 L167.9,193.9 L168.5,195.1 L169.0,196.8 L169.5,198.2 L170.1,199.7 L170.6,201.7 L171.1,202.7 L172.1,203.4 L173.2,203.7 L174.2,204.4 L175.3,205.9 L176.3,206.5 L177.9,207.8 L179.4,208.1 L179.8,207.3 L180.2,206.2 L180.6,205.6 L181.0,204.0 L181.5,202.6 L181.9,201.7 L182.3,200.6 L182.7,200.2 L183.1,198.5 L184.3,199.1 L185.5,200.0 L186.7,201.4 L187.8,202.3 L188.8,203.4 L189.8,203.4 L190.9,205.7 L191.9,206.9 L193.0,207.1 L194.6,206.8 L196.1,207.5 L196.3,206.6 L196.6,204.2 L196.8,203.6 L197.0,201.9 L197.2,201.4 L197.5,201.0 L197.7,200.0 L197.9,197.6 L198.2,197.3 L198.4,196.3 L198.8,196.9 L199.2,198.3 L199.6,200.0 L200.0,200.5 L200.4,201.6 L200.8,202.4 L201.2,204.3 L202.3,203.7 L203.3,205.5 L204.4,205.5 L205.5,206.8 L206.6,206.6 L207.6,207.2 L208.7,208.0 L209.8,209.1 L211.0,208.8 L212.1,209.8 L213.2,209.9 L214.4,211.0 L215.5,211.0 L216.6,211.6 L217.8,211.8 L218.9,212.9 L220.0,212.8 L221.2,213.1 L222.3,214.2 L223.5,214.1 L224.7,214.4 L225.9,214.1 L227.1,214.5 L228.3,213.9 L229.5,214.6 L230.7,214.8 L231.9,214.8 L233.1,214.8 L234.3,215.8 L235.6,216.1 L236.8,215.6 L238.0,216.7 L239.2,216.3 L240.5,216.4 L241.7,216.7 L242.9,216.4 L244.2,216.2 L245.5,216.5 L246.8,217.4 L248.1,217.8 L249.3,217.2 L250.6,218.0 L251.9,218.0 L253.2,218.3 L254.5,218.2" fill="none" stroke="#fdb614" stroke-width="1.90" stroke-linejoin="round" stroke-linecap="butt"/>
<path d="M338.0,219.9 L339.3,219.9 L340.5,219.9 L341.8,219.8 L343.0,219.8 L344.3,219.8 L345.5,219.8 L346.8,219.8 L348.0,219.7 L349.3,219.7 L350.5,219.7 L351.8,219.7 L353.0,219.7 L354.3,219.6 L355.5,219.6 L356.8,218.8 L357.5,218.7 L358.8,218.9 L360.0,219.3 L361.3,219.0 L362.5,218.7 L363.8,218.7 L365.1,218.8 L366.3,218.3 L367.6,218.3 L368.8,218.9 L370.1,217.8 L371.3,217.4 L372.6,217.3 L373.8,217.9 L375.0,218.2 L376.2,217.8 L377.5,218.0 L378.7,217.8 L379.9,217.8 L381.1,217.5 L382.3,217.5 L383.6,217.5 L384.8,217.9 L386.0,218.4 L387.2,217.2 L388.4,217.4 L389.6,217.3 L390.9,217.6 L392.1,217.7 L393.3,217.6 L394.5,217.6 L395.7,216.9 L396.9,216.3 L398.1,217.2 L399.4,217.4 L400.6,216.7 L401.8,217.1 L403.1,217.0 L404.4,215.8 L405.7,216.4 L406.9,216.0 L408.2,216.5 L409.5,216.0 L410.8,215.7 L412.1,215.2 L413.4,215.5 L414.6,216.0 L415.9,215.5 L417.2,214.8 L418.5,216.0 L419.7,216.3 L421.0,215.9 L422.2,215.1 L423.4,214.5 L424.6,213.9 L425.9,214.4 L427.1,214.9 L428.3,214.0 L429.5,214.0 L430.8,213.8 L432.0,213.6 L433.2,214.2 L434.4,215.2 L435.5,214.7 L436.7,215.2 L437.9,215.6 L439.1,215.4 L440.3,215.5 L441.5,215.3 L442.6,216.2 L443.8,216.1 L445.0,216.2 L446.2,216.4 L447.4,216.2 L448.6,216.1 L449.9,216.3 L451.1,217.1 L452.3,216.8 L453.5,217.0 L454.7,216.4 L455.9,215.9 L457.1,217.1 L458.4,216.9 L459.6,216.4 L460.8,216.7 L462.0,217.1 L463.2,216.5 L464.4,216.6 L465.6,217.1 L466.8,217.0 L468.0,217.6 L469.2,218.0 L470.4,218.0 L471.6,217.7 L472.8,217.8 L474.0,217.7 L475.2,217.9 L476.4,218.2 L477.6,218.1 L478.8,218.6 L480.0,219.5 L481.2,218.8 L482.5,218.9 L483.8,219.2 L485.0,219.3 L486.2,219.1 L487.5,219.0 L488.8,219.6 L490.0,219.7 L491.2,219.9 L492.5,219.5 L493.8,219.9 L495.0,220.2 L496.2,220.1 L497.5,220.4 L498.8,221.1 L500.0,220.2 L501.2,220.6 L502.5,220.4 L503.8,220.2 L505.0,220.6 L506.2,221.2 L507.5,221.3 L508.8,221.1 L510.0,221.0 L511.2,221.3 L512.5,221.7 L513.8,221.7 L515.0,221.6 L516.2,222.6 L517.5,222.4 L518.8,222.5 L520.0,222.6 L521.2,222.6 L522.4,222.9 L523.6,223.0 L524.8,223.4 L526.0,223.1 L527.2,222.9 L528.4,224.0 L529.6,223.9 L530.8,224.2 L532.0,224.5 L533.2,224.5 L534.4,224.4 L535.6,224.0 L536.8,223.8 L538.0,224.6 L539.2,224.9 L540.4,225.1 L541.6,224.6 L542.8,224.3 L544.0,224.6 L545.2,224.7 L546.4,225.2 L547.6,225.6" fill="none" stroke="#fdb614" stroke-width="1.90" stroke-linejoin="round" stroke-linecap="butt"/>
<path d="M418.5,216.3 L419.7,216.2 L421.0,215.8 L422.2,216.1 L423.4,215.9 L424.6,215.3 L425.9,215.6 L427.1,216.0 L428.3,215.0 L429.5,214.8 L430.8,214.3 L432.0,213.6 L433.2,214.7 L434.4,215.3 L435.5,215.8 L436.7,215.9 L437.9,215.2 L439.1,215.8 L440.3,215.9 L441.5,216.0 L442.6,216.1 L443.8,217.0 L445.0,217.2 L446.2,218.0 L447.4,217.8 L448.6,216.9 L449.9,217.6 L451.1,218.0 L452.3,217.8 L453.5,217.2 L454.7,218.1 L455.9,217.4 L457.1,217.5 L458.4,216.9 L459.6,216.9 L460.8,216.8 L462.0,217.8 L463.2,218.3 L464.4,218.0 L465.6,217.6 L466.8,217.9 L468.0,218.3 L469.2,217.8 L470.4,217.8 L471.6,218.2 L472.8,218.7 L474.0,218.7 L475.2,218.9 L476.4,218.5 L477.6,217.9 L478.8,218.7 L480.0,218.6 L481.2,219.0 L482.5,219.1 L483.8,219.5 L485.0,219.3 L486.2,220.1 L487.5,220.0 L488.8,220.2 L490.0,220.4 L491.2,220.7 L492.5,220.7 L493.8,220.0 L495.0,220.1 L496.2,221.1 L497.5,221.1 L498.8,221.2 L500.0,221.3 L501.2,221.1 L502.5,221.0 L503.8,221.1 L505.0,221.8 L506.2,221.9 L507.5,222.5 L508.8,222.5 L510.0,223.0 L511.2,222.8 L512.5,222.3 L513.8,223.1 L515.0,223.1 L516.2,223.4 L517.5,223.3 L518.8,223.2 L520.0,223.4 L521.2,223.1 L522.4,223.0 L523.6,223.1 L524.8,223.4 L526.0,223.3 L527.2,223.7 L528.4,224.0 L529.6,224.8 L530.8,225.2 L532.0,224.8 L533.2,225.0 L534.4,224.8 L535.6,224.9 L536.8,225.0 L538.0,224.9 L539.2,225.1 L540.4,224.8 L541.6,225.3 L542.8,225.3 L544.0,225.2 L545.2,225.4 L546.4,225.8 L547.6,225.9" fill="none" stroke="#fdb614" stroke-width="1.90" stroke-linejoin="round" stroke-linecap="butt"/>
<path d="M44.0,485.6 L45.2,485.6 L46.4,485.6 L47.6,485.6 L48.9,485.6 L50.1,485.6 L51.3,485.6 L52.5,485.6 L53.7,485.5 L54.9,485.5 L56.1,485.5 L57.3,485.5 L58.6,485.5 L59.8,485.5 L61.0,485.5 L62.2,485.5 L63.1,483.5 L64.3,483.9 L65.5,483.9 L66.8,484.5 L68.0,484.0 L69.2,483.6 L70.4,482.9 L71.6,483.0 L72.8,483.4 L74.1,483.4 L75.3,483.5 L76.5,483.4 L77.5,482.3 L78.4,481.5 L79.7,481.4 L80.9,480.7 L82.2,481.6 L83.4,481.4 L84.7,480.8 L85.9,481.0 L87.2,481.0 L88.4,481.3 L89.7,481.6 L90.9,480.0 L91.8,479.5 L92.8,479.1 L93.7,477.3 L95.0,476.7 L96.3,477.4 L97.5,477.8 L98.8,478.0 L100.1,477.6 L101.4,477.7 L102.6,478.1 L103.9,478.6 L105.2,479.4 L106.2,477.9 L107.1,476.2 L108.0,474.1 L109.0,474.0 L110.2,473.7 L111.4,473.4 L112.6,472.7 L113.8,473.0 L115.0,471.8 L116.2,472.0 L117.4,471.9 L118.6,471.8 L119.1,471.3 L119.7,469.8 L120.2,468.6 L120.8,467.8 L121.3,465.6 L121.9,464.7 L122.4,463.9 L123.4,463.0 L124.4,460.9 L125.6,461.2 L126.8,461.0 L128.0,459.7 L129.2,459.0 L130.3,458.6 L131.5,459.2 L132.7,459.3 L133.9,459.6 L134.2,458.7 L134.5,456.8 L134.9,456.3 L135.2,455.3 L135.5,454.0 L135.8,452.8 L136.2,450.5 L136.5,449.9 L136.8,448.0 L137.0,446.3 L137.1,445.4 L137.3,444.6 L137.4,443.5 L137.6,442.0 L137.8,440.2 L137.9,439.5 L138.1,437.8 L138.2,435.8 L138.4,435.4 L138.5,435.6 L138.7,433.5 L139.3,433.8 L139.9,436.5 L140.5,438.7 L141.1,438.7 L141.7,439.5 L142.3,440.8 L142.9,444.1 L143.5,444.1 L144.3,445.3 L145.1,446.1 L145.9,445.5 L146.7,446.3 L147.5,447.2 L148.3,449.4 L148.6,448.5 L148.9,448.5 L149.2,446.5 L149.5,445.4 L149.9,444.0 L150.2,442.8 L150.5,443.3 L150.8,441.3 L151.1,440.7 L151.2,439.6 L151.2,437.0 L151.3,436.1 L151.3,434.3 L151.4,433.1 L151.5,432.0 L151.5,430.7 L151.6,429.1 L151.6,429.4 L151.7,427.3 L151.7,426.5 L151.8,426.4 L151.9,424.8 L151.9,423.7 L152.0,422.9 L152.0,421.6 L152.1,421.0 L152.2,417.1 L152.2,417.9 L152.3,415.7 L152.3,412.4 L152.4,411.3 L152.4,409.4 L152.5,409.2 L152.6,407.0 L152.6,405.8 L152.7,405.9 L152.7,405.1 L152.8,403.2 L153.0,404.7 L153.2,406.2 L153.5,407.8 L153.7,409.1 L153.9,410.2 L154.2,412.5 L154.4,411.8 L154.6,413.3 L154.8,415.2 L155.0,416.2 L155.2,417.2 L155.4,418.4 L155.6,420.3 L155.8,422.7 L156.0,423.2 L156.2,424.0 L156.4,425.6 L156.7,426.4 L157.0,426.0 L157.3,428.4 L157.6,429.6 L157.9,430.7 L158.3,432.8 L158.6,434.0 L158.9,434.7 L159.2,434.4 L159.5,435.3 L159.8,437.7 L160.2,439.4 L160.5,441.2 L160.9,442.6 L161.2,443.3 L161.6,443.8 L161.9,444.8 L162.5,444.1 L163.1,442.4 L163.8,442.4 L164.4,440.2 L165.0,438.1 L165.1,437.7 L165.1,435.7 L165.2,436.7 L165.2,434.5 L165.3,433.5 L165.4,432.3 L165.4,430.5 L165.5,428.3 L165.5,426.5 L165.6,427.4 L165.6,427.2 L165.7,427.5 L165.8,423.8 L165.8,423.2 L165.9,421.8 L165.9,421.3 L166.0,419.1 L166.1,418.6 L166.1,417.9 L166.2,416.7 L166.2,416.2 L166.3,413.8 L166.3,413.7 L166.4,410.8 L166.5,411.1 L166.5,406.4 L166.6,406.2 L166.6,404.7 L166.7,404.1 L166.8,404.2 L166.8,403.2 L166.9,401.5 L166.9,401.6 L167.0,397.9 L167.0,396.3 L167.1,397.1 L167.2,395.6 L167.2,392.0 L167.3,392.0 L167.3,389.9 L167.4,389.9" fill="none" stroke="#fdb614" stroke-width="1.90" stroke-linejoin="round" stroke-linecap="butt"/>
<path d="M167.4,389.9 L167.4,389.1 L167.5,387.5 L167.5,386.7 L167.5,385.0 L167.5,384.1 L167.6,382.9 L167.6,381.4 L167.6,379.7 L167.6,378.6 L167.7,376.7 L167.7,375.8 L167.7,374.3 L167.7,373.9 L167.8,372.4 L167.8,370.5 L167.8,370.0 L167.8,369.0 L167.8,367.6 L167.9,367.1 L167.9,365.8 L167.9,364.3 L167.9,362.7 L168.0,360.5 L168.0,360.3" fill="none" stroke="#fdb614" stroke-width="1.1" stroke-linejoin="round" stroke-linecap="butt"/>
<path d="M168.0,360.3 L168.1,362.5 L168.2,362.6 L168.2,362.6 L168.3,364.6 L168.4,364.6 L168.4,366.9 L168.5,369.3 L168.6,371.8 L168.7,372.4 L168.8,373.3 L168.8,374.9 L168.9,377.0 L169.0,376.9 L169.1,376.7 L169.1,377.7 L169.2,378.3 L169.3,379.7 L169.4,381.7 L169.4,383.8 L169.5,385.2 L169.6,386.4 L169.7,387.2 L169.7,389.0 L169.8,391.0 L169.9,392.4 L170.1,394.4 L170.2,394.3 L170.3,394.9 L170.4,397.8 L170.6,398.3 L170.7,399.4 L170.8,399.8 L170.9,401.9 L171.1,402.2 L171.2,402.5 L171.3,404.2 L171.4,405.2 L171.6,407.6 L171.7,408.2 L171.8,409.6 L171.9,410.5 L172.0,412.2 L172.1,412.7 L172.2,415.2 L172.3,414.6 L172.3,416.0 L172.4,417.0 L172.5,419.4 L172.6,420.6 L172.7,422.2 L172.8,422.8 L172.9,423.4" fill="none" stroke="#fdb614" stroke-width="1.8" stroke-dasharray="1.5 1.6" stroke-linejoin="round" stroke-linecap="butt"/>
<path d="M172.9,423.4 L173.3,424.0 L173.7,425.7 L174.1,426.9 L174.5,428.8 L174.9,430.4 L175.3,432.3 L176.2,432.6 L177.2,432.7 L178.1,433.0 L179.0,434.6 L179.1,433.9 L179.2,434.2 L179.3,432.2 L179.4,432.0 L179.5,431.4 L179.7,427.9 L179.8,427.6 L179.9,426.8 L180.0,426.0 L180.1,423.7 L180.2,422.9 L180.3,420.6 L180.4,419.2 L180.5,418.0 L180.6,418.5 L180.7,416.1 L180.9,415.5 L181.0,413.7 L181.1,411.5 L181.2,410.8 L181.3,410.2 L181.4,408.4" fill="none" stroke="#fdb614" stroke-width="1.90" stroke-linejoin="round" stroke-linecap="butt"/>
<path d="M181.4,408.4 L181.5,407.3 L181.5,405.8 L181.6,404.3 L181.6,403.4 L181.7,402.2 L181.7,400.7 L181.8,399.2 L181.8,398.4 L181.9,397.4 L182.0,396.1 L182.0,395.1 L182.1,393.4 L182.1,392.6 L182.2,391.6 L182.2,390.4 L182.3,389.0 L182.3,387.9 L182.4,386.7 L182.4,385.9 L182.5,384.6 L182.6,383.3 L182.6,381.7 L182.7,380.9 L182.7,380.0 L182.8,378.4 L182.8,377.3 L182.9,376.1 L182.9,374.8 L183.0,373.1 L183.1,372.7 L183.1,370.7 L183.2,369.8 L183.2,368.5 L183.3,367.8 L183.3,366.3 L183.4,365.1 L183.4,364.1 L183.5,363.2" fill="none" stroke="#fdb614" stroke-width="1.1" stroke-linejoin="round" stroke-linecap="butt"/>
<path d="M183.5,363.2 L183.6,363.7 L183.7,365.7 L183.8,367.0 L183.9,368.9 L184.1,369.0 L184.2,370.1 L184.3,371.0 L184.4,371.6 L184.5,373.7 L184.6,375.4 L184.7,377.8 L184.8,377.9 L185.0,379.4 L185.1,381.4 L185.2,381.8 L185.3,382.8 L185.4,384.0 L185.5,384.5 L185.6,385.1 L185.7,388.0 L185.9,389.1 L186.0,390.1 L186.1,390.1 L186.2,392.1 L186.3,394.7 L186.4,394.2 L186.5,395.0 L186.6,397.9 L186.7,400.2 L186.8,402.0 L186.9,401.4 L187.0,403.0 L187.1,403.0 L187.3,404.9 L187.4,405.6 L187.5,407.1 L187.6,409.6 L187.7,410.4 L187.8,410.9 L187.9,412.0 L188.0,413.4 L188.1,413.9 L188.2,415.6 L188.3,417.3 L188.4,419.7 L188.4,418.0 L188.5,418.8 L188.6,419.8 L188.7,422.8 L188.8,426.2 L188.9,426.4 L189.0,427.1 L189.0,429.0 L189.1,427.5 L189.2,429.4 L189.3,428.5" fill="none" stroke="#fdb614" stroke-width="1.8" stroke-dasharray="1.5 1.6" stroke-linejoin="round" stroke-linecap="butt"/>
<path d="M189.3,428.5 L190.7,430.4 L192.2,430.8 L193.6,431.2 L194.1,430.5 L194.5,428.7 L194.9,428.6 L195.4,426.8 L195.5,425.8 L195.5,426.5 L195.6,423.6 L195.6,422.8 L195.7,420.2 L195.8,420.3 L195.8,419.4 L195.9,417.5 L195.9,416.8 L196.0,416.5 L196.1,415.4 L196.1,412.9 L196.2,411.1 L196.2,410.7 L196.3,407.4 L196.4,406.1 L196.4,405.8 L196.5,405.2 L196.5,405.4 L196.6,404.8 L196.7,402.4 L196.7,400.8 L196.8,397.7 L196.8,396.8 L196.9,396.1 L197.0,394.7 L197.0,393.6 L197.1,393.0 L197.1,390.6 L197.2,389.5" fill="none" stroke="#fdb614" stroke-width="1.90" stroke-linejoin="round" stroke-linecap="butt"/>
<path d="M197.2,389.5 L197.2,388.0 L197.3,387.6 L197.3,386.0 L197.3,384.4 L197.4,383.9 L197.4,382.6 L197.4,381.8 L197.5,380.3 L197.5,379.8 L197.5,378.4 L197.5,376.9 L197.6,375.6 L197.6,374.2 L197.6,373.3 L197.7,372.6 L197.7,370.8 L197.7,369.1 L197.8,368.2 L197.8,367.3 L197.8,365.4 L197.9,364.1 L197.9,362.8 L197.9,362.0 L198.0,361.0 L198.0,359.5 L198.0,358.0 L198.1,357.2 L198.1,355.3 L198.1,354.7 L198.2,353.5 L198.2,352.9 L198.2,351.7 L198.2,350.0 L198.3,348.6 L198.3,347.4 L198.3,346.0 L198.4,345.0 L198.4,344.1 L198.4,342.2 L198.5,341.2 L198.5,341.5" fill="none" stroke="#fdb614" stroke-width="1.1" stroke-linejoin="round" stroke-linecap="butt"/>
<path d="M198.5,341.5 L198.5,342.7 L198.6,342.4 L198.6,343.0 L198.7,343.9 L198.7,344.2 L198.7,347.7 L198.8,348.9 L198.8,349.3 L198.9,349.5 L198.9,351.3 L198.9,352.6 L199.0,356.0 L199.0,356.1 L199.1,357.4 L199.1,359.5 L199.2,360.8 L199.2,361.2 L199.2,360.2 L199.3,363.8 L199.3,365.3 L199.4,365.7 L199.4,366.8 L199.4,367.2 L199.5,368.1 L199.5,368.6 L199.6,371.4 L199.6,373.3 L199.6,374.5 L199.7,376.3 L199.7,377.6 L199.8,378.4 L199.8,378.5 L199.9,380.6 L199.9,382.8 L199.9,383.9 L200.0,385.7 L200.0,385.5 L200.1,385.6 L200.1,388.5 L200.1,388.7 L200.2,390.2 L200.2,391.2 L200.3,392.5 L200.3,393.4 L200.4,394.3 L200.5,394.1 L200.6,398.3 L200.7,399.2 L200.8,398.2 L200.9,399.4 L201.0,400.4 L201.1,401.9 L201.3,401.5 L201.4,405.0 L201.5,408.2 L201.6,408.5 L201.7,410.3 L201.8,411.6 L201.9,411.1 L202.0,413.9 L202.1,413.1 L202.2,414.4 L202.2,415.9 L202.3,418.8 L202.4,419.7 L202.4,420.5 L202.5,421.0 L202.6,422.6 L202.6,424.0 L202.7,425.9 L202.8,428.0 L202.8,429.0 L202.9,429.6 L203.0,430.3 L203.0,432.8 L203.1,433.4 L203.2,434.2 L203.2,436.6 L203.3,438.2" fill="none" stroke="#fdb614" stroke-width="1.8" stroke-dasharray="1.5 1.6" stroke-linejoin="round" stroke-linecap="butt"/>
<path d="M203.3,438.2 L203.6,438.8 L203.9,439.2 L204.2,439.7 L204.5,441.8 L204.8,442.3 L205.1,444.2 L205.4,444.5 L205.7,446.0 L206.0,447.4 L206.2,448.6 L206.5,449.8 L206.8,451.0 L207.1,451.3 L207.3,452.1 L207.6,453.7 L207.9,456.2 L208.1,456.8 L208.4,457.3 L209.4,458.1 L210.4,459.3 L211.4,461.0 L212.5,461.3 L213.5,462.6 L214.5,463.4 L215.6,463.7 L216.6,463.9 L217.7,464.7 L218.8,465.1 L219.8,466.3 L220.9,466.0 L221.9,467.7 L223.0,468.6 L224.2,469.1 L225.4,470.1 L226.6,470.4 L227.9,469.7 L229.1,470.5 L230.3,471.3 L231.5,471.4 L232.7,471.5 L233.9,472.5 L235.2,473.3 L236.4,473.4 L237.6,473.9 L238.9,474.2 L240.1,474.6 L241.3,475.2 L242.5,476.0 L243.7,475.3 L245.0,475.7 L246.2,476.8 L247.4,476.9 L248.6,476.9 L249.8,477.4 L251.0,476.9 L252.3,476.8 L253.5,476.6 L254.7,477.8" fill="none" stroke="#fdb614" stroke-width="1.90" stroke-linejoin="round" stroke-linecap="butt"/>
<path d="M338.0,485.4 L339.3,485.4 L340.5,485.3 L341.8,485.3 L343.0,485.3 L344.3,485.3 L345.5,485.2 L346.8,485.2 L348.0,485.2 L349.3,485.2 L350.5,485.1 L351.8,485.1 L353.0,485.1 L354.3,485.1 L355.5,485.0 L356.8,485.4 L358.0,485.2 L359.2,485.0 L360.4,484.6 L361.7,484.5 L362.9,485.1 L364.1,484.3 L365.3,484.0 L366.5,484.1 L367.7,484.3 L368.9,484.4 L370.1,483.7 L371.4,483.6 L372.6,483.5 L373.8,483.0 L375.0,483.2 L376.2,483.2 L377.5,483.7 L378.8,483.8 L380.0,483.4 L381.2,483.5 L382.5,483.5 L383.8,483.4 L385.0,483.4 L386.2,484.0 L387.5,483.7 L388.8,483.2 L390.0,483.3 L391.2,483.9 L392.5,484.7 L393.8,483.9 L395.0,483.9 L396.2,483.8 L397.5,483.5 L398.8,484.0 L400.0,484.0 L401.2,484.2 L402.5,485.0 L403.8,484.4 L405.0,484.6 L406.2,484.7 L407.5,484.2 L408.8,484.1 L410.0,484.8 L411.2,484.8 L412.5,484.6 L413.8,484.1 L415.0,484.6 L416.2,484.6 L417.5,485.1 L418.7,485.0 L419.9,484.7 L421.2,484.3 L422.4,484.0 L423.6,483.5 L424.8,483.6 L426.1,483.5 L427.3,483.6 L428.5,483.7 L429.8,483.5 L431.0,483.0 L432.3,483.5 L433.6,484.2 L434.9,483.8 L436.1,484.2 L437.4,484.5 L438.7,484.8 L440.0,485.1 L441.2,485.3 L442.4,485.5 L443.6,486.4 L444.9,487.0 L446.1,486.5 L447.3,486.0 L448.5,486.6 L449.7,486.5 L450.9,486.5 L452.2,486.1 L453.4,486.5 L454.6,486.6 L455.8,486.4 L457.0,486.8 L458.2,487.5 L459.5,487.5 L460.7,487.3 L461.9,486.7 L463.1,487.0 L464.3,487.0 L465.5,487.5 L466.7,487.7 L467.9,487.6 L469.1,487.9 L470.4,487.7 L471.6,488.2 L472.8,488.8 L474.0,488.6 L475.2,488.9 L476.4,488.4 L477.6,489.1 L478.8,489.5 L480.0,489.2 L481.2,490.0 L482.5,489.9 L483.7,489.5 L484.9,489.5 L486.1,490.2 L487.3,490.3 L488.6,490.9 L489.8,490.4 L491.0,490.7 L492.2,491.3 L493.4,491.1 L494.7,491.5 L495.9,491.4 L497.1,491.6 L498.3,491.7 L499.6,492.4 L500.8,491.8 L502.0,492.1 L503.3,492.5 L504.5,492.0 L505.7,492.2 L507.0,492.9 L508.2,493.0 L509.4,491.9 L510.6,492.3 L511.9,492.1 L513.1,492.6 L514.3,492.6 L515.5,492.7 L516.8,492.8 L518.0,493.2 L519.2,493.2 L520.4,493.2 L521.6,493.4 L522.8,493.8 L524.1,493.6 L525.3,494.2 L526.5,493.7 L527.7,494.1 L529.0,494.1 L530.2,494.6 L531.5,494.3 L532.7,494.1 L534.0,493.9 L535.2,494.7 L536.5,494.7 L537.7,494.2 L539.0,494.3 L540.2,494.1 L541.5,494.7 L542.7,494.7 L544.0,494.1 L545.2,494.4 L546.5,494.7 L547.7,494.7 L549.0,494.6" fill="none" stroke="#fdb614" stroke-width="1.90" stroke-linejoin="round" stroke-linecap="butt"/>
<path d="M44.0,750.6 L45.2,750.5 L46.4,750.5 L47.6,750.4 L48.9,750.4 L50.1,750.3 L51.3,750.2 L52.5,750.2 L53.7,750.1 L54.9,750.1 L56.1,750.0 L57.3,749.9 L58.6,749.9 L59.8,749.8 L61.0,749.8 L62.2,749.7 L63.4,750.0 L64.6,749.3 L65.9,748.9 L67.1,749.7 L68.3,749.1 L69.5,748.8 L70.7,748.1 L71.9,748.0 L73.2,747.8 L74.4,748.0 L75.6,747.4 L77.0,747.4 L78.4,746.4 L79.6,746.2 L80.8,746.0 L82.1,746.5 L83.3,746.9 L84.5,746.4 L85.7,746.8 L86.9,747.0 L88.1,747.0 L89.4,746.5 L90.6,745.6 L91.8,746.0 L93.7,744.5 L95.0,744.5 L96.3,743.6 L97.5,743.8 L98.8,744.0 L100.1,743.6 L101.4,743.9 L102.6,744.5 L103.9,744.1 L105.2,743.5 L106.7,743.6 L108.1,741.2 L109.4,741.1 L110.7,741.7 L112.0,741.6 L113.3,740.8 L114.7,741.6 L116.0,742.2 L117.3,741.8 L118.6,742.6 L119.5,741.6 L120.5,740.9 L121.5,738.9 L122.4,738.1 L123.6,738.7 L124.8,739.0 L126.0,738.7 L127.2,737.9 L128.4,737.4 L129.6,736.7 L130.8,737.1 L132.0,736.3 L133.3,735.4 L134.5,733.5 L135.8,732.3 L136.3,732.7 L136.8,731.3 L137.2,730.1 L137.7,727.6 L139.0,728.4 L140.3,729.9 L141.6,728.8 L142.8,727.9 L144.1,728.8 L145.4,729.1 L146.9,728.3 L148.3,726.8 L149.2,725.5 L150.1,724.4 L151.0,724.3 L151.3,723.2 L151.6,722.5 L151.9,720.4 L152.2,719.8 L152.5,718.2 L152.8,717.2 L153.1,716.6 L154.8,716.9 L156.4,717.1 L157.4,715.1 L158.4,714.8 L159.3,714.6 L160.3,713.0 L161.3,712.1 L161.9,710.0 L162.5,708.7 L163.1,708.8 L163.7,708.8 L164.2,706.9 L164.7,704.2 L165.2,703.3 L165.7,701.2 L166.2,700.5 L166.5,701.2 L166.8,699.5 L167.1,697.7 L167.4,697.1 L167.7,695.0 L168.0,693.9 L168.3,692.6 L168.6,691.5 L169.0,691.3 L169.4,693.8 L169.8,695.8 L170.2,694.8 L170.6,694.8 L171.0,697.0 L171.6,700.4 L172.2,701.4 L172.8,702.9 L173.5,704.1 L174.1,705.6 L174.7,705.7 L175.9,706.3 L177.1,707.8 L178.3,709.2 L178.5,708.1 L178.6,706.8 L178.8,704.9 L178.9,704.6 L179.1,703.3 L179.2,702.5 L179.4,698.7 L179.5,699.1 L179.7,695.8 L179.9,695.8 L180.0,694.4 L180.2,693.8 L180.3,692.3 L180.5,691.1 L180.6,690.3 L180.8,689.5 L180.9,687.4 L181.1,684.2 L181.2,683.7 L181.4,684.0 L181.6,682.1 L181.8,681.9 L182.0,680.3 L182.2,678.4 L182.4,678.9 L182.6,678.9 L182.8,676.6 L183.0,674.9 L183.2,674.4 L183.5,673.8 L183.8,674.6 L184.1,677.6 L184.4,679.4 L184.7,679.5 L185.0,680.0 L185.3,681.9 L185.5,681.8 L185.6,683.3 L185.8,684.9 L185.9,684.2 L186.1,687.4 L186.3,689.6 L186.4,691.5 L186.6,690.9 L186.8,691.4 L186.9,692.8 L187.1,693.6 L187.2,697.5 L187.4,697.4 L187.6,698.5 L187.7,700.2 L187.9,701.7 L188.1,703.9 L188.2,703.6 L188.4,705.6 L188.5,706.6 L188.7,706.8 L189.9,707.4 L191.1,706.7 L192.4,708.6 L193.6,707.9 L193.9,707.4 L194.1,706.8 L194.4,704.3 L194.7,702.3 L194.9,701.5 L195.2,699.5 L195.5,699.4 L195.7,698.1 L196.0,696.0 L196.1,694.5 L196.2,694.3 L196.3,691.6 L196.5,692.5 L196.6,690.0 L196.7,688.7 L196.8,686.8 L196.9,687.6 L197.0,686.5 L197.2,685.8 L197.3,684.2 L197.4,682.3 L197.5,682.2 L197.6,680.6 L197.7,678.9 L197.9,677.6 L198.0,676.5 L198.1,674.8 L198.2,673.0 L198.7,672.5 L199.2,676.5 L199.6,675.7 L200.1,675.2 L200.6,676.9 L201.3,680.8 L202.0,682.4 L202.8,682.0 L203.5,683.2 L204.2,684.0 L204.9,683.1 L205.5,682.5 L206.2,682.2 L206.8,682.2 L207.4,679.2 L208.0,678.5 L208.7,679.5 L209.3,682.3 L209.9,684.0 L210.9,683.0 L211.8,681.9 L212.3,682.6 L212.8,682.7 L213.4,685.0 L213.9,686.6 L214.4,688.1 L214.9,690.0 L215.3,689.4 L215.7,688.8 L216.2,689.8 L216.6,694.3 L217.0,694.4 L217.4,696.2 L217.9,697.4 L218.5,699.2 L219.0,702.7 L219.5,701.9 L220.0,702.6 L220.6,703.2 L221.1,704.8 L222.0,706.3 L222.9,706.4 L223.9,708.7 L224.8,710.2 L226.1,709.1 L227.3,707.8 L228.6,706.7 L229.8,705.9 L231.1,707.5 L232.3,707.3 L233.5,707.8 L234.1,707.8 L234.8,705.7 L235.4,704.5 L236.0,704.3 L236.7,704.4 L237.3,701.9 L238.2,703.7 L239.2,703.8 L240.1,705.2 L241.0,706.5 L241.7,706.4 L242.5,708.5 L243.2,710.5 L244.0,710.7 L244.7,711.5 L245.9,710.6 L247.2,712.3 L248.4,711.9 L249.7,710.9 L250.9,711.4 L252.2,709.9 L253.4,709.5 L254.7,710.0" fill="none" stroke="#fdb614" stroke-width="1.90" stroke-linejoin="round" stroke-linecap="butt"/>
<path d="M338.0,750.4 L339.3,750.3 L340.5,750.3 L341.8,750.2 L343.0,750.2 L344.3,750.1 L345.5,750.1 L346.8,750.0 L348.0,750.0 L349.3,749.9 L350.5,749.9 L351.8,749.8 L353.0,749.8 L354.3,749.7 L355.5,749.7 L356.8,749.8 L357.6,749.3 L358.8,749.3 L360.0,749.5 L361.3,748.7 L362.5,748.6 L363.7,748.7 L364.9,748.5 L366.1,749.0 L367.4,748.4 L368.6,748.7 L369.8,749.0 L371.1,747.0 L372.4,746.0 L373.7,746.1 L375.0,746.3 L376.3,746.7 L377.6,746.8 L378.9,746.9 L380.2,746.8 L381.5,747.0 L382.8,747.3 L384.1,747.6 L385.4,747.2 L386.7,746.3 L388.0,745.3 L389.3,745.4 L390.5,745.0 L391.8,745.8 L393.0,746.1 L394.3,746.0 L395.5,745.7 L396.8,745.7 L398.0,745.7 L399.3,745.3 L400.5,745.4 L401.6,745.6 L402.8,743.3 L404.1,742.8 L405.3,743.3 L406.6,743.6 L407.8,742.9 L409.1,742.5 L410.3,743.3 L411.6,742.7 L412.8,743.9 L414.1,743.7 L415.3,742.8 L416.4,741.9 L417.6,740.7 L419.1,740.9 L420.5,741.0 L422.0,741.8 L423.2,741.1 L424.4,740.5 L425.6,739.8 L426.8,739.2 L428.0,738.6 L428.7,737.7 L429.4,737.4 L430.1,736.3 L430.8,734.7 L431.5,734.1 L432.4,734.0 L433.6,734.0 L434.9,734.1 L436.1,733.9 L437.3,734.7 L438.5,734.9 L439.8,734.5 L441.0,734.7 L442.2,736.5 L442.9,735.3 L443.6,734.4 L444.4,733.3 L445.1,732.0 L445.8,731.3 L446.8,730.3 L447.7,728.2 L449.2,729.0 L450.7,730.0 L451.9,729.0 L453.1,728.6 L454.3,727.7 L455.2,727.5 L456.1,726.4 L457.1,726.4 L458.0,724.8 L458.4,724.7 L458.8,722.8 L459.2,720.9 L459.6,719.4 L460.0,719.0 L460.4,717.2 L460.8,717.3 L461.1,716.3 L461.5,714.7 L461.9,711.9 L462.2,710.8 L462.6,709.2 L463.1,709.4 L463.5,711.6 L464.0,714.5 L464.4,714.5 L464.9,716.0 L465.3,717.6 L466.0,717.6 L466.8,718.7 L467.5,720.2 L468.3,721.7 L469.0,722.1 L470.0,723.4 L470.9,724.3 L471.9,725.9 L472.9,725.6 L473.2,724.4 L473.4,723.3 L473.7,722.2 L473.9,721.6 L474.2,719.9 L474.5,720.6 L474.7,718.0 L475.0,717.2 L475.2,716.3 L475.4,715.2 L475.6,713.2 L475.8,711.2 L476.0,710.0 L476.2,709.5 L476.5,708.2 L476.7,707.3 L476.9,706.2 L477.1,704.0 L477.3,702.2 L477.5,702.6 L478.1,703.1 L478.7,703.1 L479.3,706.4 L479.9,706.6 L480.2,707.2 L480.6,709.6 L480.9,709.8 L481.3,710.8 L481.6,713.2 L482.0,713.7 L482.3,716.8 L483.3,717.0 L484.3,719.3 L485.2,719.3 L486.2,719.7 L487.2,720.0 L487.8,718.8 L488.4,717.3 L489.1,716.3 L489.7,715.7 L489.9,713.4 L490.0,711.9 L490.2,709.8 L490.4,710.6 L490.5,709.3 L490.7,708.0 L490.9,706.7 L491.0,706.3 L491.2,704.9 L491.3,704.0 L491.5,702.2 L491.7,700.7 L491.8,699.4 L492.0,696.7 L492.2,697.2 L492.3,694.6 L492.5,693.2 L493.0,695.8 L493.5,697.0 L494.0,698.9 L494.5,701.1 L495.0,702.9 L495.5,704.0 L495.9,703.9 L496.2,706.3 L496.6,705.8 L497.0,706.8 L497.4,708.8 L497.8,709.4 L498.1,710.5 L498.5,711.5 L499.2,713.5 L500.0,712.3 L500.7,714.8 L501.5,716.4 L502.2,716.8 L503.2,718.0 L504.1,718.1 L505.1,720.0 L506.0,722.5 L507.0,721.8 L508.0,723.3 L509.0,723.5 L509.9,724.0 L510.9,724.6 L511.9,725.5 L512.9,725.8 L513.9,726.4 L515.0,728.8 L516.0,729.5 L517.0,730.6 L518.0,731.4 L519.2,731.9 L520.4,731.2 L521.7,731.5 L522.9,732.6 L524.1,733.5 L525.5,733.1 L526.9,733.5 L528.2,733.6 L529.6,734.8 L530.6,733.7 L531.6,732.4 L532.6,730.8 L533.8,731.4 L535.0,731.6 L536.3,731.5 L537.5,732.1 L538.7,732.0 L539.9,733.1 L541.2,733.7 L542.4,733.6 L543.6,734.4 L544.7,735.1 L545.8,735.4 L546.8,735.8 L547.9,736.0 L549.0,737.8" fill="none" stroke="#fdb614" stroke-width="1.90" stroke-linejoin="round" stroke-linecap="butt"/>
<path d="M263.5,149.6 C263.1,137.0 263.8,126.0 272.8,117.8" fill="none" stroke="#7a2431" stroke-width="1.45"/>
<path d="M302.4,172.6 C308.6,157.0 311.2,134.0 296.5,118.8" fill="none" stroke="#7a2431" stroke-width="1.45"/>
<polygon points="271.4,109.4 281.0,116.9 272.3,118.6" fill="#6f1c25" stroke="#6f1c25" stroke-width="0.8" stroke-linejoin="round"/>
<polygon points="297.9,110.5 288.8,118.8 297.9,119.6" fill="#6f1c25" stroke="#6f1c25" stroke-width="0.8" stroke-linejoin="round"/>
<circle cx="285.50" cy="105.85" r="7.40" fill="#fdc833" stroke="#fbbd22" stroke-width="0.9"/>
<circle cx="261.80" cy="159.70" r="7.50" fill="#b58e2e" stroke="#c29a38" stroke-width="0.9"/>
<circle cx="302.50" cy="182.20" r="7.40" fill="#80cf93" stroke="#8ad49b" stroke-width="0.9"/>
<text x="279.80" y="97.60" class="dl" textLength="15.2" lengthAdjust="spacingAndGlyphs">PC</text>
<text x="254.30" y="177.80" class="dl" textLength="20.6" lengthAdjust="spacingAndGlyphs">GrC</text>
<text x="298.10" y="201.40" class="dl" textLength="11.8" lengthAdjust="spacingAndGlyphs">IO</text>
<path d="M263.5,422.9 C263.1,410.3 263.8,399.3 272.8,391.1" fill="none" stroke="#7a2431" stroke-width="1.45"/>
<path d="M302.4,445.9 C308.6,430.3 311.2,407.3 296.5,392.1" fill="none" stroke="#7a2431" stroke-width="1.45"/>
<polygon points="271.4,382.7 281.0,390.2 272.3,391.9" fill="#6f1c25" stroke="#6f1c25" stroke-width="0.8" stroke-linejoin="round"/>
<polygon points="297.9,383.8 288.8,392.1 297.9,392.9" fill="#6f1c25" stroke="#6f1c25" stroke-width="0.8" stroke-linejoin="round"/>
<circle cx="285.50" cy="379.15" r="7.40" fill="#fdc833" stroke="#fbbd22" stroke-width="0.9"/>
<circle cx="261.80" cy="433.00" r="7.50" fill="#b58e2e" stroke="#c29a38" stroke-width="0.9"/>
<circle cx="302.50" cy="455.50" r="7.40" fill="#80cf93" stroke="#8ad49b" stroke-width="0.9"/>
<text x="279.80" y="370.90" class="dl" textLength="15.2" lengthAdjust="spacingAndGlyphs">PC</text>
<text x="254.30" y="451.10" class="dl" textLength="20.6" lengthAdjust="spacingAndGlyphs">GrC</text>
<text x="298.10" y="474.70" class="dl" textLength="11.8" lengthAdjust="spacingAndGlyphs">IO</text>
<path d="M275.6,718.8 C275.3,702 276.8,689 280.2,679.5" fill="none" stroke="#6e1c25" stroke-width="2"/>
<path d="M280.2,679.8 C279.4,668 277.5,661 273.6,656.5" fill="none" stroke="#6e1c25" stroke-width="2"/>
<path d="M280.0,680.5 C283,674.5 288,670.5 294.5,668.3" fill="none" stroke="#6e1c25" stroke-width="2"/>
<polygon points="264.9,655.2 274.4,648.7 274.3,657.6" fill="#6f1c25" stroke="#6f1c25" stroke-width="0.8" stroke-linejoin="round"/>
<polygon points="296.2,660.2 302.6,670.3 293.0,668.8" fill="#6f1c25" stroke="#6f1c25" stroke-width="0.8" stroke-linejoin="round"/>
<circle cx="263.90" cy="641.50" r="7.50" fill="#da4c9b" stroke="#e0609f" stroke-width="0.9"/>
<circle cx="308.40" cy="660.00" r="7.40" fill="#ee8893" stroke="#f19aa3" stroke-width="0.9"/>
<circle cx="275.70" cy="729.60" r="7.40" fill="#5cbdcd" stroke="#70c6d4" stroke-width="0.9"/>
<text x="247.20" y="629.90" class="dl" textLength="45.8" lengthAdjust="spacingAndGlyphs">DCN exc</text>
<text x="288.50" y="650.40" class="dl" textLength="43.4" lengthAdjust="spacingAndGlyphs">DCN inh</text>
<text x="269.60" y="746.60" class="dl" textLength="16.6" lengthAdjust="spacingAndGlyphs">MF</text>
</svg>
</body></html>
